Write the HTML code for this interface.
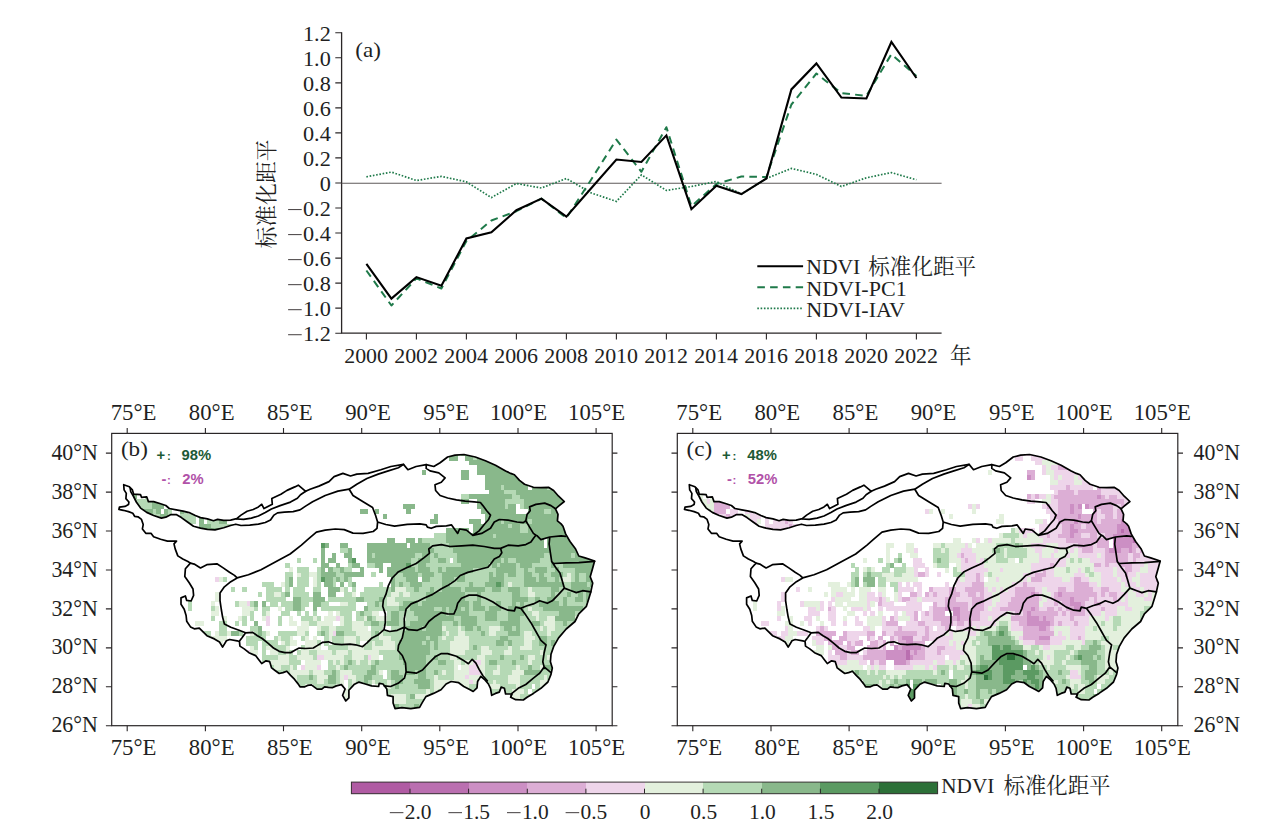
<!DOCTYPE html><html><head><meta charset="utf-8"><title>fig</title><style>html,body{margin:0;padding:0;background:#fff}svg{display:block}text{font-family:"Liberation Serif",serif;fill:#221f1f}.s{font-family:"Liberation Sans",sans-serif;font-weight:bold}.cjk{font-family:"Liberation Serif","Noto Serif CJK SC",serif}</style></head><body>
<svg width="1268" height="829" viewBox="0 0 1268 829">
<defs><clipPath id="cb"><path d="M123.7 484.7 129.4 486.8 132.4 489.9 133.7 494.2 140.6 494.7 141.5 497.3 146.7 496.8 148.4 501.6 153.6 501.6 160.6 503.8 165.8 505.5 169.3 508.5 176.2 509.8 183.1 511.1 190.1 512.9 195.3 515.5 200.5 517.6 207.4 518.9 213.5 520.7 217.6 519.4 223.7 520.3 230.6 520.1 236.7 518.6 241.0 515.1 247.1 511.2 253.2 509.5 258.4 506.9 261.8 504.3 264.0 508.6 272.3 504.3 271.8 498.5 280.9 494.3 287.0 490.4 294.8 486.9 298.3 485.2 305.7 491.3 310.1 489.2 318.9 486.1 329.0 481.6 334.1 476.6 342.9 473.4 350.5 476.0 356.8 474.1 368.1 473.4 380.8 469.7 390.9 466.5 403.5 464.4 407.9 469.7 416.1 466.5 426.2 464.6 433.8 466.5 440.1 462.7 447.6 457.0 455.1 455.1 464.0 454.5 475.3 457.0 485.4 460.8 495.5 465.2 505.6 470.9 510.7 473.4 514.4 474.7 519.5 480.4 524.5 484.2 533.4 487.3 540.9 487.7 548.5 487.3 553.6 490.5 558.6 496.2 564.3 501.5 558.6 506.2 555.5 508.8 558.0 514.4 557.4 520.8 561.1 523.9 563.0 526.3 565.6 533.9 570.0 541.5 575.6 549.0 578.8 556.0 585.1 557.9 594.6 561.0 592.7 567.9 590.2 576.8 592.7 583.1 590.8 591.9 588.9 598.2 586.4 606.3 578.8 613.9 575.0 621.5 566.2 629.0 558.6 637.9 553.6 646.7 551.0 654.3 550.4 661.8 552.3 668.1 551.0 674.4 547.9 682.0 540.9 688.3 533.4 693.4 527.1 697.2 523.3 700.0 515.7 699.7 510.7 697.2 511.9 694.0 505.6 694.0 504.4 688.3 501.2 687.1 499.3 692.1 495.5 693.4 491.7 695.3 490.5 688.3 488.4 684.0 485.2 680.2 480.8 676.4 477.6 681.5 477.0 687.8 473.2 691.5 470.1 689.7 463.8 686.5 458.7 682.7 451.1 681.5 446.1 684.0 441.0 689.7 433.5 693.4 425.9 696.6 422.1 702.9 419.6 707.3 410.8 708.6 401.9 707.7 395.0 708.6 393.1 702.9 393.1 696.6 387.4 695.3 386.8 689.0 383.0 684.0 379.2 683.3 378.6 686.5 371.6 685.9 365.3 684.0 359.0 682.1 354.0 684.6 348.9 690.3 348.9 697.9 345.8 701.0 342.6 695.3 345.1 689.0 341.4 684.6 336.3 685.9 332.2 687.7 328.4 687.3 324.6 686.8 321.8 689.1 317.1 689.1 311.4 684.9 307.6 685.4 304.8 686.8 300.0 686.8 298.1 683.9 294.4 679.2 290.6 675.4 286.8 671.2 283.0 672.6 279.2 673.5 275.4 670.7 271.6 667.9 269.7 661.7 266.0 660.8 261.7 663.6 258.4 659.3 255.6 655.6 248.9 652.7 244.2 648.9 239.9 646.1 239.5 641.8 237.2 640.8 229.6 639.5 226.4 640.8 222.6 647.1 219.5 642.0 214.4 638.9 206.9 635.7 203.1 631.9 199.3 628.1 194.3 628.8 190.5 626.9 186.7 621.2 186.1 615.5 184.2 609.2 181.0 604.2 181.0 597.9 185.4 596.0 186.7 600.4 191.1 601.0 193.6 595.3 193.0 589.0 189.2 582.7 184.8 576.4 185.4 568.8 190.4 563.1 187.9 561.5 182.8 559.0 177.8 555.9 175.2 548.9 174.0 543.9 176.5 541.1 167.5 541.1 160.6 539.3 153.6 536.7 151.0 533.3 145.8 533.3 142.4 528.9 143.2 524.6 141.5 519.4 138.0 516.8 134.6 516.3 132.8 513.3 128.5 511.6 123.3 510.3 118.9 509.4 119.4 507.2 125.0 506.4 128.5 504.6 128.9 502.0 125.9 498.6 126.3 493.4 124.1 489.9Z"/></clipPath><clipPath id="cc"><path d="M689.3 484.7 695.0 486.8 698.0 489.9 699.3 494.2 706.2 494.7 707.1 497.3 712.3 496.8 714.0 501.6 719.2 501.6 726.2 503.8 731.4 505.5 734.9 508.5 741.8 509.8 748.7 511.1 755.7 512.9 760.9 515.5 766.1 517.6 773.0 518.9 779.1 520.7 783.2 519.4 789.3 520.3 796.2 520.1 802.3 518.6 806.6 515.1 812.7 511.2 818.8 509.5 824.0 506.9 827.4 504.3 829.6 508.6 837.9 504.3 837.4 498.5 846.5 494.3 852.6 490.4 860.4 486.9 863.9 485.2 871.3 491.3 875.7 489.2 884.5 486.1 894.6 481.6 899.7 476.6 908.5 473.4 916.1 476.0 922.4 474.1 933.7 473.4 946.4 469.7 956.5 466.5 969.1 464.4 973.5 469.7 981.7 466.5 991.8 464.6 999.4 466.5 1005.7 462.7 1013.2 457.0 1020.7 455.1 1029.6 454.5 1040.9 457.0 1051.0 460.8 1061.1 465.2 1071.2 470.9 1076.3 473.4 1080.0 474.7 1085.1 480.4 1090.1 484.2 1099.0 487.3 1106.5 487.7 1114.1 487.3 1119.2 490.5 1124.2 496.2 1129.9 501.5 1124.2 506.2 1121.1 508.8 1123.6 514.4 1123.0 520.8 1126.7 523.9 1128.6 526.3 1131.2 533.9 1135.6 541.5 1141.2 549.0 1144.4 556.0 1150.7 557.9 1160.2 561.0 1158.3 567.9 1155.8 576.8 1158.3 583.1 1156.4 591.9 1154.5 598.2 1152.0 606.3 1144.4 613.9 1140.6 621.5 1131.8 629.0 1124.2 637.9 1119.2 646.7 1116.6 654.3 1116.0 661.8 1117.9 668.1 1116.6 674.4 1113.5 682.0 1106.5 688.3 1099.0 693.4 1092.7 697.2 1088.9 700.0 1081.3 699.7 1076.3 697.2 1077.5 694.0 1071.2 694.0 1070.0 688.3 1066.8 687.1 1064.9 692.1 1061.1 693.4 1057.3 695.3 1056.1 688.3 1054.0 684.0 1050.8 680.2 1046.4 676.4 1043.2 681.5 1042.6 687.8 1038.8 691.5 1035.7 689.7 1029.4 686.5 1024.3 682.7 1016.7 681.5 1011.7 684.0 1006.6 689.7 999.1 693.4 991.5 696.6 987.7 702.9 985.2 707.3 976.4 708.6 967.5 707.7 960.6 708.6 958.7 702.9 958.7 696.6 953.0 695.3 952.4 689.0 948.6 684.0 944.8 683.3 944.2 686.5 937.2 685.9 930.9 684.0 924.6 682.1 919.6 684.6 914.5 690.3 914.5 697.9 911.4 701.0 908.2 695.3 910.7 689.0 907.0 684.6 901.9 685.9 897.8 687.7 894.0 687.3 890.2 686.8 887.4 689.1 882.7 689.1 877.0 684.9 873.2 685.4 870.4 686.8 865.6 686.8 863.7 683.9 860.0 679.2 856.2 675.4 852.4 671.2 848.6 672.6 844.8 673.5 841.0 670.7 837.2 667.9 835.3 661.7 831.6 660.8 827.3 663.6 824.0 659.3 821.2 655.6 814.5 652.7 809.8 648.9 805.5 646.1 805.1 641.8 802.8 640.8 795.2 639.5 792.0 640.8 788.2 647.1 785.1 642.0 780.0 638.9 772.5 635.7 768.7 631.9 764.9 628.1 759.9 628.8 756.1 626.9 752.3 621.2 751.7 615.5 749.8 609.2 746.6 604.2 746.6 597.9 751.0 596.0 752.3 600.4 756.7 601.0 759.2 595.3 758.6 589.0 754.8 582.7 750.4 576.4 751.0 568.8 756.0 563.1 753.5 561.5 748.4 559.0 743.4 555.9 740.8 548.9 739.6 543.9 742.1 541.1 733.1 541.1 726.2 539.3 719.2 536.7 716.6 533.3 711.4 533.3 708.0 528.9 708.8 524.6 707.1 519.4 703.6 516.8 700.2 516.3 698.4 513.3 694.1 511.6 688.9 510.3 684.5 509.4 685.0 507.2 690.6 506.4 694.1 504.6 694.5 502.0 691.5 498.6 691.9 493.4 689.7 489.9Z"/></clipPath><clipPath id="kb"><path d="M123.7 484.7 129.4 486.8 132.4 489.9 133.7 494.2 140.6 494.7 141.5 497.3 146.7 496.8 148.4 501.6 153.6 501.6 160.6 503.8 165.8 505.5 169.3 508.5 176.2 509.8 183.1 511.1 190.1 512.9 195.3 515.5 200.5 517.6 207.4 518.9 213.5 520.7 217.6 519.4 223.7 520.3 230.6 520.1 236.7 518.6 241.0 515.1 247.1 511.2 253.2 509.5 258.4 506.9 261.8 504.3 264.0 508.6 272.3 504.3 271.8 498.5 280.9 494.3 287.0 490.4 294.8 486.9 298.3 485.2 305.7 491.3 310.1 489.2 318.9 486.1 329.0 481.6 334.1 476.6 342.9 473.4 350.5 476.0 356.8 474.1 368.1 473.4 380.8 469.7 390.9 466.5 403.5 464.4 403.5 464.4 398.4 467.8 388.3 470.9 378.2 474.1 366.9 478.5 356.8 484.2 349.2 489.2 337.9 491.1 325.2 495.5 312.6 501.8 305.2 506.4 300.0 509.9 293.1 511.6 284.4 512.1 277.5 512.9 274.0 515.1 270.5 519.9 265.3 522.5 258.4 524.2 249.7 525.1 241.0 525.5 235.8 524.2 230.6 525.5 223.7 527.7 215.0 529.9 207.4 529.4 200.5 528.1 193.5 526.3 187.5 522.0 181.4 517.6 176.2 514.6 171.0 514.6 165.8 517.2 161.4 518.1 153.6 515.5 146.7 512.4 140.6 508.1 136.3 502.0 133.3 496.0 130.7 491.6 130.2 488.1Z"/></clipPath><clipPath id="kc"><path d="M689.3 484.7 695.0 486.8 698.0 489.9 699.3 494.2 706.2 494.7 707.1 497.3 712.3 496.8 714.0 501.6 719.2 501.6 726.2 503.8 731.4 505.5 734.9 508.5 741.8 509.8 748.7 511.1 755.7 512.9 760.9 515.5 766.1 517.6 773.0 518.9 779.1 520.7 783.2 519.4 789.3 520.3 796.2 520.1 802.3 518.6 806.6 515.1 812.7 511.2 818.8 509.5 824.0 506.9 827.4 504.3 829.6 508.6 837.9 504.3 837.4 498.5 846.5 494.3 852.6 490.4 860.4 486.9 863.9 485.2 871.3 491.3 875.7 489.2 884.5 486.1 894.6 481.6 899.7 476.6 908.5 473.4 916.1 476.0 922.4 474.1 933.7 473.4 946.4 469.7 956.5 466.5 969.1 464.4 969.1 464.4 964.0 467.8 953.9 470.9 943.8 474.1 932.5 478.5 922.4 484.2 914.8 489.2 903.5 491.1 890.8 495.5 878.2 501.8 870.8 506.4 865.6 509.9 858.7 511.6 850.0 512.1 843.1 512.9 839.6 515.1 836.1 519.9 830.9 522.5 824.0 524.2 815.3 525.1 806.6 525.5 801.4 524.2 796.2 525.5 789.3 527.7 780.6 529.9 773.0 529.4 766.1 528.1 759.1 526.3 753.1 522.0 747.0 517.6 741.8 514.6 736.6 514.6 731.4 517.2 727.0 518.1 719.2 515.5 712.3 512.4 706.2 508.1 701.9 502.0 698.9 496.0 696.3 491.6 695.8 488.1Z"/></clipPath></defs>
<rect width="1268" height="829" fill="#fff"/>
<g stroke="#2a2627" stroke-width="1.3" fill="none">
<path d="M341.6 32.2V333.2H941.6"/>
<path d="M341.6 32.8h-6.3M341.6 57.8h-6.3M341.6 82.9h-6.3M341.6 107.9h-6.3M341.6 132.9h-6.3M341.6 157.9h-6.3M341.6 183.0h-6.3M341.6 208.0h-6.3M341.6 233.0h-6.3M341.6 258.1h-6.3M341.6 283.1h-6.3M341.6 308.1h-6.3M341.6 333.2h-6.3M366.4 333.2v6.2M416.4 333.2v6.2M466.4 333.2v6.2M516.4 333.2v6.2M566.4 333.2v6.2M616.4 333.2v6.2M666.4 333.2v6.2M716.4 333.2v6.2M766.4 333.2v6.2M816.4 333.2v6.2M866.4 333.2v6.2M916.4 333.2v6.2" stroke-width="1.1"/>
</g>
<path d="M341.6 183.2H941.6" stroke="#5e5a5a" stroke-width="1.15"/>
<text transform="translate(302.98 40.70) scale(1.060 1)" font-size="21.00" text-anchor="start">1.2</text>
<text transform="translate(302.98 65.73) scale(1.060 1)" font-size="21.00" text-anchor="start">1.0</text>
<text transform="translate(302.98 90.76) scale(1.060 1)" font-size="21.00" text-anchor="start">0.8</text>
<text transform="translate(302.98 115.79) scale(1.060 1)" font-size="21.00" text-anchor="start">0.6</text>
<text transform="translate(302.98 140.82) scale(1.060 1)" font-size="21.00" text-anchor="start">0.4</text>
<text transform="translate(302.98 165.85) scale(1.060 1)" font-size="21.00" text-anchor="start">0.2</text>
<text transform="translate(319.67 190.88) scale(1.060 1)" font-size="21.00" text-anchor="start">0</text>
<text transform="translate(302.98 215.91) scale(1.060 1)" font-size="21.00" text-anchor="start">0.2</text><path d="M288.1 209.56h13.6" stroke="#4a4546" stroke-width="1.05"/>
<text transform="translate(302.98 240.94) scale(1.060 1)" font-size="21.00" text-anchor="start">0.4</text><path d="M288.1 234.59h13.6" stroke="#4a4546" stroke-width="1.05"/>
<text transform="translate(302.98 265.97) scale(1.060 1)" font-size="21.00" text-anchor="start">0.6</text><path d="M288.1 259.62h13.6" stroke="#4a4546" stroke-width="1.05"/>
<text transform="translate(302.98 291.00) scale(1.060 1)" font-size="21.00" text-anchor="start">0.8</text><path d="M288.1 284.65h13.6" stroke="#4a4546" stroke-width="1.05"/>
<text transform="translate(302.98 316.03) scale(1.060 1)" font-size="21.00" text-anchor="start">1.0</text><path d="M288.1 309.68h13.6" stroke="#4a4546" stroke-width="1.05"/>
<text transform="translate(302.98 341.06) scale(1.060 1)" font-size="21.00" text-anchor="start">1.2</text><path d="M288.1 334.71h13.6" stroke="#4a4546" stroke-width="1.05"/>
<text transform="translate(366.10 362.80) scale(1.045 1)" font-size="21.00" text-anchor="middle">2000</text>
<text transform="translate(416.10 362.80) scale(1.045 1)" font-size="21.00" text-anchor="middle">2002</text>
<text transform="translate(466.10 362.80) scale(1.045 1)" font-size="21.00" text-anchor="middle">2004</text>
<text transform="translate(516.10 362.80) scale(1.045 1)" font-size="21.00" text-anchor="middle">2006</text>
<text transform="translate(566.10 362.80) scale(1.045 1)" font-size="21.00" text-anchor="middle">2008</text>
<text transform="translate(616.10 362.80) scale(1.045 1)" font-size="21.00" text-anchor="middle">2010</text>
<text transform="translate(666.10 362.80) scale(1.045 1)" font-size="21.00" text-anchor="middle">2012</text>
<text transform="translate(716.10 362.80) scale(1.045 1)" font-size="21.00" text-anchor="middle">2014</text>
<text transform="translate(766.10 362.80) scale(1.045 1)" font-size="21.00" text-anchor="middle">2016</text>
<text transform="translate(816.10 362.80) scale(1.045 1)" font-size="21.00" text-anchor="middle">2018</text>
<text transform="translate(866.10 362.80) scale(1.045 1)" font-size="21.00" text-anchor="middle">2020</text>
<text transform="translate(916.10 362.80) scale(1.045 1)" font-size="21.00" text-anchor="middle">2022</text>
<text transform="translate(355.20 56.80) scale(1.050 1)" font-size="22.00" text-anchor="start">(a)</text>
<text class="cjk" x="950.00" y="363.30" font-size="21.5" text-anchor="start">年</text>
<text class="cjk" transform="translate(273.8 248.5) rotate(-90)" font-size="21.8" text-anchor="start">标准化距平</text>
<path d="M366.4 176.8 391.4 172.1 416.4 180.5 441.4 176.4 466.4 181.8 491.4 197.6 516.4 183.5 541.4 188.0 566.4 178.5 591.4 193.0 616.4 201.4 641.4 174.9 666.4 190.4 691.4 186.5 716.4 181.5 741.4 194.1 766.4 178.5 791.4 168.4 816.4 174.4 841.4 186.5 866.4 177.8 891.4 172.6 916.4 179.8" fill="none" stroke="#1f7a4a" stroke-width="1.7" stroke-dasharray="1.6 1.7"/>
<path d="M366.4 270.5 391.4 305.5 416.4 278.4 441.4 288.5 466.4 241.0 491.4 220.5 516.4 211.2 541.4 198.6 566.4 218.0 591.4 179.2 616.4 139.6 641.4 171.8 666.4 127.2 691.4 206.2 716.4 184.0 741.4 176.5 766.4 177.0 791.4 104.5 816.4 73.5 841.4 93.2 866.4 95.8 891.4 54.2 916.4 76.0" fill="none" stroke="#1f7a4a" stroke-width="2" stroke-dasharray="7.6 5.2" stroke-linejoin="round"/>
<path d="M366.4 263.8 391.4 298.6 416.4 277.1 441.4 285.8 466.4 238.5 491.4 232.2 516.4 210.2 541.4 198.6 566.4 216.6 591.4 188.0 616.4 159.5 641.4 162.0 666.4 135.4 691.4 209.2 716.4 185.8 741.4 194.1 766.4 178.5 791.4 89.4 816.4 63.4 841.4 97.5 866.4 98.5 891.4 42.0 916.4 78.0" fill="none" stroke="#000" stroke-width="2.1" stroke-linejoin="miter"/>
<path d="M757.3 266.2H803.1" stroke="#000" stroke-width="2.1"/>
<path d="M757.3 287.3H803.1" stroke="#1f7a4a" stroke-width="2" stroke-dasharray="7.6 5.2"/>
<path d="M757.3 308.4H803.1" stroke="#1f7a4a" stroke-width="1.7" stroke-dasharray="1.6 1.7"/>
<text transform="translate(806.30 273.90) scale(1.030 1)" font-size="21.00" text-anchor="start">NDVI</text>
<text class="cjk" x="868.20" y="273.60" font-size="21.6" text-anchor="start">标准化距平</text>
<text transform="translate(806.30 296.20) scale(1.050 1)" font-size="21.00" text-anchor="start">NDVI-PC1</text>
<text transform="translate(806.30 316.90) scale(1.050 1)" font-size="21.00" text-anchor="start">NDVI-IAV</text>
<g clip-path="url(#cb)" shape-rendering="crispEdges">
<path fill="#eed5ea" d="M215.0 577.1h4.2v5.17h-4.2zM246.2 601.4h4.2v5.17h-4.2zM265.8 616.1h4.2v5.17h-4.2zM336.1 616.1h4.2v5.17h-4.2zM265.8 620.9h4.2v5.17h-4.2zM332.2 630.7h4.2v5.17h-4.2zM246.2 650.1h4.2v5.17h-4.2zM316.6 655.0h8.1v5.17h-8.1zM367.4 655.0h4.2v5.17h-4.2zM472.9 659.9h8.1v5.17h-8.1zM300.9 664.7h4.2v5.17h-4.2zM316.6 664.7h4.2v5.17h-4.2zM469.0 664.7h8.1v5.17h-8.1zM469.0 669.6h12.0v5.17h-12.0zM343.9 674.5h4.2v5.17h-4.2zM465.0 674.5h4.2v5.17h-4.2zM469.0 679.3h4.2v5.17h-4.2zM340.0 694.0h4.2v5.17h-4.2z"/>
<path fill="#e3f0dd" d="M289.2 567.4h4.2v5.17h-4.2zM297.0 572.2h4.2v5.17h-4.2zM308.7 572.2h8.1v5.17h-8.1zM566.6 572.2h4.2v5.17h-4.2zM218.9 577.1h4.2v5.17h-4.2zM312.7 577.1h4.2v5.17h-4.2zM562.7 577.1h8.1v5.17h-8.1zM281.4 582.0h4.2v5.17h-4.2zM312.7 582.0h4.2v5.17h-4.2zM508.0 582.0h4.2v5.17h-4.2zM340.0 586.8h4.2v5.17h-4.2zM394.7 586.8h12.0v5.17h-12.0zM527.6 586.8h4.2v5.17h-4.2zM215.0 591.7h4.2v5.17h-4.2zM273.6 591.7h8.1v5.17h-8.1zM351.7 591.7h4.2v5.17h-4.2zM390.8 591.7h8.1v5.17h-8.1zM402.5 591.7h8.1v5.17h-8.1zM527.6 591.7h8.1v5.17h-8.1zM215.0 596.6h4.2v5.17h-4.2zM386.9 596.6h8.1v5.17h-8.1zM211.1 601.4h4.2v5.17h-4.2zM238.4 601.4h8.1v5.17h-8.1zM340.0 601.4h8.1v5.17h-8.1zM386.9 601.4h12.0v5.17h-12.0zM215.0 606.3h4.2v5.17h-4.2zM242.3 606.3h12.0v5.17h-12.0zM277.5 606.3h4.2v5.17h-4.2zM527.6 606.3h4.2v5.17h-4.2zM211.1 611.2h8.1v5.17h-8.1zM242.3 611.2h8.1v5.17h-8.1zM265.8 611.2h4.2v5.17h-4.2zM328.3 611.2h4.2v5.17h-4.2zM336.1 611.2h4.2v5.17h-4.2zM371.3 611.2h8.1v5.17h-8.1zM531.5 611.2h8.1v5.17h-8.1zM222.8 616.1h4.2v5.17h-4.2zM238.4 616.1h4.2v5.17h-4.2zM261.9 616.1h4.2v5.17h-4.2zM289.2 616.1h4.2v5.17h-4.2zM312.7 616.1h4.2v5.17h-4.2zM324.4 616.1h12.0v5.17h-12.0zM340.0 616.1h4.2v5.17h-4.2zM363.5 616.1h4.2v5.17h-4.2zM375.2 616.1h12.0v5.17h-12.0zM402.5 616.1h4.2v5.17h-4.2zM535.4 616.1h4.2v5.17h-4.2zM547.1 616.1h8.1v5.17h-8.1zM574.5 616.1h4.2v5.17h-4.2zM195.4 620.9h8.1v5.17h-8.1zM289.2 620.9h8.1v5.17h-8.1zM300.9 620.9h8.1v5.17h-8.1zM316.6 620.9h15.9v5.17h-15.9zM340.0 620.9h4.2v5.17h-4.2zM351.7 620.9h12.0v5.17h-12.0zM543.2 620.9h12.0v5.17h-12.0zM574.5 620.9h4.2v5.17h-4.2zM187.6 625.8h4.2v5.17h-4.2zM297.0 625.8h12.0v5.17h-12.0zM316.6 625.8h4.2v5.17h-4.2zM328.3 625.8h8.1v5.17h-8.1zM351.7 625.8h15.9v5.17h-15.9zM441.6 625.8h4.2v5.17h-4.2zM457.2 625.8h4.2v5.17h-4.2zM488.5 625.8h12.0v5.17h-12.0zM539.3 625.8h4.2v5.17h-4.2zM547.1 625.8h8.1v5.17h-8.1zM215.0 630.7h4.2v5.17h-4.2zM226.7 630.7h4.2v5.17h-4.2zM250.1 630.7h4.2v5.17h-4.2zM265.8 630.7h4.2v5.17h-4.2zM297.0 630.7h8.1v5.17h-8.1zM328.3 630.7h4.2v5.17h-4.2zM355.6 630.7h15.9v5.17h-15.9zM379.1 630.7h4.2v5.17h-4.2zM445.5 630.7h4.2v5.17h-4.2zM457.2 630.7h8.1v5.17h-8.1zM488.5 630.7h8.1v5.17h-8.1zM523.7 630.7h8.1v5.17h-8.1zM547.1 630.7h4.2v5.17h-4.2zM211.1 635.5h15.9v5.17h-15.9zM277.5 635.5h4.2v5.17h-4.2zM289.2 635.5h4.2v5.17h-4.2zM304.8 635.5h4.2v5.17h-4.2zM312.7 635.5h4.2v5.17h-4.2zM328.3 635.5h4.2v5.17h-4.2zM343.9 635.5h12.0v5.17h-12.0zM359.5 635.5h12.0v5.17h-12.0zM379.1 635.5h12.0v5.17h-12.0zM441.6 635.5h4.2v5.17h-4.2zM453.3 635.5h15.9v5.17h-15.9zM523.7 635.5h12.0v5.17h-12.0zM215.0 640.4h8.1v5.17h-8.1zM281.4 640.4h4.2v5.17h-4.2zM289.2 640.4h8.1v5.17h-8.1zM304.8 640.4h12.0v5.17h-12.0zM343.9 640.4h12.0v5.17h-12.0zM371.3 640.4h4.2v5.17h-4.2zM383.0 640.4h12.0v5.17h-12.0zM449.4 640.4h19.8v5.17h-19.8zM523.7 640.4h8.1v5.17h-8.1zM250.1 645.3h4.2v5.17h-4.2zM265.8 645.3h8.1v5.17h-8.1zM285.3 645.3h4.2v5.17h-4.2zM304.8 645.3h15.9v5.17h-15.9zM347.8 645.3h15.9v5.17h-15.9zM371.3 645.3h23.7v5.17h-23.7zM449.4 645.3h19.8v5.17h-19.8zM480.7 645.3h8.1v5.17h-8.1zM508.0 645.3h4.2v5.17h-4.2zM519.8 645.3h12.0v5.17h-12.0zM250.1 650.1h8.1v5.17h-8.1zM269.7 650.1h8.1v5.17h-8.1zM285.3 650.1h4.2v5.17h-4.2zM300.9 650.1h8.1v5.17h-8.1zM316.6 650.1h15.9v5.17h-15.9zM336.1 650.1h12.0v5.17h-12.0zM351.7 650.1h27.7v5.17h-27.7zM449.4 650.1h15.9v5.17h-15.9zM480.7 650.1h12.0v5.17h-12.0zM504.1 650.1h8.1v5.17h-8.1zM539.3 650.1h4.2v5.17h-4.2zM277.5 655.0h12.0v5.17h-12.0zM297.0 655.0h15.9v5.17h-15.9zM324.4 655.0h19.8v5.17h-19.8zM351.7 655.0h12.0v5.17h-12.0zM371.3 655.0h8.1v5.17h-8.1zM449.4 655.0h8.1v5.17h-8.1zM476.8 655.0h8.1v5.17h-8.1zM527.6 655.0h8.1v5.17h-8.1zM547.1 655.0h4.2v5.17h-4.2zM269.7 659.9h19.8v5.17h-19.8zM304.8 659.9h15.9v5.17h-15.9zM332.2 659.9h4.2v5.17h-4.2zM340.0 659.9h4.2v5.17h-4.2zM355.6 659.9h4.2v5.17h-4.2zM367.4 659.9h4.2v5.17h-4.2zM453.3 659.9h8.1v5.17h-8.1zM465.0 659.9h8.1v5.17h-8.1zM480.7 659.9h4.2v5.17h-4.2zM527.6 659.9h4.2v5.17h-4.2zM273.6 664.7h8.1v5.17h-8.1zM289.2 664.7h4.2v5.17h-4.2zM304.8 664.7h12.0v5.17h-12.0zM336.1 664.7h4.2v5.17h-4.2zM453.3 664.7h4.2v5.17h-4.2zM461.1 664.7h8.1v5.17h-8.1zM476.8 664.7h8.1v5.17h-8.1zM496.3 664.7h4.2v5.17h-4.2zM515.8 664.7h4.2v5.17h-4.2zM539.3 664.7h4.2v5.17h-4.2zM289.2 669.6h19.8v5.17h-19.8zM312.7 669.6h12.0v5.17h-12.0zM340.0 669.6h12.0v5.17h-12.0zM379.1 669.6h4.2v5.17h-4.2zM441.6 669.6h4.2v5.17h-4.2zM453.3 669.6h15.9v5.17h-15.9zM480.7 669.6h4.2v5.17h-4.2zM492.4 669.6h8.1v5.17h-8.1zM511.9 669.6h12.0v5.17h-12.0zM289.2 674.5h8.1v5.17h-8.1zM316.6 674.5h12.0v5.17h-12.0zM340.0 674.5h4.2v5.17h-4.2zM347.8 674.5h8.1v5.17h-8.1zM433.8 674.5h4.2v5.17h-4.2zM453.3 674.5h12.0v5.17h-12.0zM469.0 674.5h15.9v5.17h-15.9zM508.0 674.5h12.0v5.17h-12.0zM543.2 674.5h4.2v5.17h-4.2zM316.6 679.3h8.1v5.17h-8.1zM340.0 679.3h4.2v5.17h-4.2zM351.7 679.3h4.2v5.17h-4.2zM371.3 679.3h4.2v5.17h-4.2zM386.9 679.3h4.2v5.17h-4.2zM433.8 679.3h35.5v5.17h-35.5zM472.9 679.3h4.2v5.17h-4.2zM492.4 679.3h4.2v5.17h-4.2zM508.0 679.3h12.0v5.17h-12.0zM539.3 679.3h12.0v5.17h-12.0zM304.8 684.2h4.2v5.17h-4.2zM336.1 684.2h8.1v5.17h-8.1zM351.7 684.2h4.2v5.17h-4.2zM375.2 684.2h4.2v5.17h-4.2zM386.9 684.2h4.2v5.17h-4.2zM433.8 684.2h12.0v5.17h-12.0zM461.1 684.2h8.1v5.17h-8.1zM488.5 684.2h12.0v5.17h-12.0zM515.8 684.2h4.2v5.17h-4.2zM539.3 684.2h8.1v5.17h-8.1zM340.0 689.1h8.1v5.17h-8.1zM426.0 689.1h4.2v5.17h-4.2zM433.8 689.1h4.2v5.17h-4.2zM511.9 689.1h12.0v5.17h-12.0zM343.9 694.0h4.2v5.17h-4.2zM390.8 694.0h15.9v5.17h-15.9zM414.3 694.0h15.9v5.17h-15.9zM511.9 694.0h8.1v5.17h-8.1zM390.8 698.8h15.9v5.17h-15.9zM511.9 698.8h4.2v5.17h-4.2zM519.8 698.8h4.2v5.17h-4.2z"/>
<path fill="#b5d9b5" d="M453.3 450.5h8.1v5.17h-8.1zM472.9 455.4h4.2v5.17h-4.2zM500.2 484.6h4.2v5.17h-4.2zM547.1 484.6h4.2v5.17h-4.2zM504.1 489.5h12.0v5.17h-12.0zM461.1 494.3h8.1v5.17h-8.1zM511.9 494.3h8.1v5.17h-8.1zM504.1 499.2h19.8v5.17h-19.8zM504.1 504.1h4.2v5.17h-4.2zM519.8 504.1h4.2v5.17h-4.2zM543.2 508.9h8.1v5.17h-8.1zM500.2 518.7h4.2v5.17h-4.2zM527.6 518.7h4.2v5.17h-4.2zM508.0 523.5h4.2v5.17h-4.2zM519.8 523.5h8.1v5.17h-8.1zM519.8 528.4h8.1v5.17h-8.1zM433.8 533.3h12.0v5.17h-12.0zM492.4 533.3h4.2v5.17h-4.2zM422.1 538.2h23.7v5.17h-23.7zM429.9 543.0h19.8v5.17h-19.8zM340.0 547.9h8.1v5.17h-8.1zM433.8 547.9h19.8v5.17h-19.8zM371.3 552.8h4.2v5.17h-4.2zM414.3 552.8h8.1v5.17h-8.1zM429.9 552.8h4.2v5.17h-4.2zM437.7 552.8h19.8v5.17h-19.8zM543.2 552.8h8.1v5.17h-8.1zM570.6 552.8h4.2v5.17h-4.2zM297.0 557.6h4.2v5.17h-4.2zM312.7 557.6h4.2v5.17h-4.2zM410.3 557.6h8.1v5.17h-8.1zM429.9 557.6h8.1v5.17h-8.1zM445.5 557.6h4.2v5.17h-4.2zM453.3 557.6h4.2v5.17h-4.2zM500.2 557.6h4.2v5.17h-4.2zM508.0 557.6h8.1v5.17h-8.1zM539.3 557.6h12.0v5.17h-12.0zM285.3 562.5h4.2v5.17h-4.2zM347.8 562.5h4.2v5.17h-4.2zM367.4 562.5h8.1v5.17h-8.1zM410.3 562.5h8.1v5.17h-8.1zM426.0 562.5h35.5v5.17h-35.5zM488.5 562.5h4.2v5.17h-4.2zM496.3 562.5h4.2v5.17h-4.2zM515.8 562.5h4.2v5.17h-4.2zM531.5 562.5h19.8v5.17h-19.8zM554.9 562.5h8.1v5.17h-8.1zM297.0 567.4h12.0v5.17h-12.0zM316.6 567.4h4.2v5.17h-4.2zM332.2 567.4h8.1v5.17h-8.1zM343.9 567.4h8.1v5.17h-8.1zM414.3 567.4h4.2v5.17h-4.2zM429.9 567.4h8.1v5.17h-8.1zM441.6 567.4h4.2v5.17h-4.2zM472.9 567.4h23.7v5.17h-23.7zM515.8 567.4h8.1v5.17h-8.1zM527.6 567.4h8.1v5.17h-8.1zM547.1 567.4h8.1v5.17h-8.1zM558.8 567.4h15.9v5.17h-15.9zM285.3 572.2h8.1v5.17h-8.1zM300.9 572.2h8.1v5.17h-8.1zM316.6 572.2h4.2v5.17h-4.2zM336.1 572.2h8.1v5.17h-8.1zM371.3 572.2h4.2v5.17h-4.2zM394.7 572.2h8.1v5.17h-8.1zM418.2 572.2h4.2v5.17h-4.2zM433.8 572.2h8.1v5.17h-8.1zM465.0 572.2h23.7v5.17h-23.7zM492.4 572.2h4.2v5.17h-4.2zM504.1 572.2h4.2v5.17h-4.2zM515.8 572.2h8.1v5.17h-8.1zM531.5 572.2h8.1v5.17h-8.1zM543.2 572.2h8.1v5.17h-8.1zM562.7 572.2h4.2v5.17h-4.2zM570.6 572.2h4.2v5.17h-4.2zM578.4 572.2h8.1v5.17h-8.1zM222.8 577.1h4.2v5.17h-4.2zM285.3 577.1h4.2v5.17h-4.2zM297.0 577.1h12.0v5.17h-12.0zM316.6 577.1h4.2v5.17h-4.2zM332.2 577.1h4.2v5.17h-4.2zM340.0 577.1h4.2v5.17h-4.2zM347.8 577.1h4.2v5.17h-4.2zM394.7 577.1h12.0v5.17h-12.0zM429.9 577.1h12.0v5.17h-12.0zM453.3 577.1h4.2v5.17h-4.2zM465.0 577.1h23.7v5.17h-23.7zM504.1 577.1h19.8v5.17h-19.8zM535.4 577.1h4.2v5.17h-4.2zM547.1 577.1h8.1v5.17h-8.1zM558.8 577.1h4.2v5.17h-4.2zM570.6 577.1h4.2v5.17h-4.2zM578.4 577.1h8.1v5.17h-8.1zM261.9 582.0h12.0v5.17h-12.0zM285.3 582.0h4.2v5.17h-4.2zM297.0 582.0h12.0v5.17h-12.0zM316.6 582.0h4.2v5.17h-4.2zM332.2 582.0h4.2v5.17h-4.2zM347.8 582.0h4.2v5.17h-4.2zM379.1 582.0h4.2v5.17h-4.2zM394.7 582.0h4.2v5.17h-4.2zM402.5 582.0h8.1v5.17h-8.1zM422.1 582.0h19.8v5.17h-19.8zM449.4 582.0h19.8v5.17h-19.8zM472.9 582.0h12.0v5.17h-12.0zM504.1 582.0h4.2v5.17h-4.2zM511.9 582.0h12.0v5.17h-12.0zM562.7 582.0h8.1v5.17h-8.1zM586.2 582.0h4.2v5.17h-4.2zM230.6 586.8h4.2v5.17h-4.2zM242.3 586.8h4.2v5.17h-4.2zM265.8 586.8h15.9v5.17h-15.9zM285.3 586.8h4.2v5.17h-4.2zM293.1 586.8h12.0v5.17h-12.0zM312.7 586.8h8.1v5.17h-8.1zM343.9 586.8h4.2v5.17h-4.2zM351.7 586.8h4.2v5.17h-4.2zM363.5 586.8h27.7v5.17h-27.7zM406.4 586.8h8.1v5.17h-8.1zM418.2 586.8h12.0v5.17h-12.0zM433.8 586.8h8.1v5.17h-8.1zM461.1 586.8h4.2v5.17h-4.2zM484.6 586.8h8.1v5.17h-8.1zM500.2 586.8h8.1v5.17h-8.1zM519.8 586.8h8.1v5.17h-8.1zM531.5 586.8h19.8v5.17h-19.8zM558.8 586.8h12.0v5.17h-12.0zM590.1 586.8h4.2v5.17h-4.2zM258.0 591.7h4.2v5.17h-4.2zM265.8 591.7h8.1v5.17h-8.1zM281.4 591.7h4.2v5.17h-4.2zM293.1 591.7h15.9v5.17h-15.9zM343.9 591.7h8.1v5.17h-8.1zM359.5 591.7h31.6v5.17h-31.6zM398.6 591.7h4.2v5.17h-4.2zM410.3 591.7h15.9v5.17h-15.9zM465.0 591.7h12.0v5.17h-12.0zM480.7 591.7h31.6v5.17h-31.6zM519.8 591.7h8.1v5.17h-8.1zM535.4 591.7h15.9v5.17h-15.9zM554.9 591.7h12.0v5.17h-12.0zM570.6 591.7h8.1v5.17h-8.1zM582.3 591.7h4.2v5.17h-4.2zM265.8 596.6h19.8v5.17h-19.8zM300.9 596.6h12.0v5.17h-12.0zM328.3 596.6h27.7v5.17h-27.7zM363.5 596.6h15.9v5.17h-15.9zM383.0 596.6h4.2v5.17h-4.2zM394.7 596.6h31.6v5.17h-31.6zM465.0 596.6h12.0v5.17h-12.0zM480.7 596.6h31.6v5.17h-31.6zM527.6 596.6h8.1v5.17h-8.1zM539.3 596.6h8.1v5.17h-8.1zM554.9 596.6h8.1v5.17h-8.1zM566.6 596.6h8.1v5.17h-8.1zM582.3 596.6h4.2v5.17h-4.2zM187.6 601.4h4.2v5.17h-4.2zM234.5 601.4h4.2v5.17h-4.2zM250.1 601.4h4.2v5.17h-4.2zM269.7 601.4h8.1v5.17h-8.1zM281.4 601.4h12.0v5.17h-12.0zM300.9 601.4h8.1v5.17h-8.1zM320.5 601.4h8.1v5.17h-8.1zM347.8 601.4h8.1v5.17h-8.1zM367.4 601.4h8.1v5.17h-8.1zM379.1 601.4h8.1v5.17h-8.1zM398.6 601.4h4.2v5.17h-4.2zM418.2 601.4h4.2v5.17h-4.2zM469.0 601.4h4.2v5.17h-4.2zM480.7 601.4h15.9v5.17h-15.9zM500.2 601.4h12.0v5.17h-12.0zM515.8 601.4h4.2v5.17h-4.2zM523.7 601.4h15.9v5.17h-15.9zM558.8 601.4h4.2v5.17h-4.2zM566.6 601.4h23.7v5.17h-23.7zM187.6 606.3h4.2v5.17h-4.2zM211.1 606.3h4.2v5.17h-4.2zM254.0 606.3h4.2v5.17h-4.2zM261.9 606.3h8.1v5.17h-8.1zM285.3 606.3h8.1v5.17h-8.1zM300.9 606.3h4.2v5.17h-4.2zM320.5 606.3h35.5v5.17h-35.5zM367.4 606.3h31.6v5.17h-31.6zM406.4 606.3h4.2v5.17h-4.2zM433.8 606.3h8.1v5.17h-8.1zM445.5 606.3h4.2v5.17h-4.2zM461.1 606.3h4.2v5.17h-4.2zM469.0 606.3h4.2v5.17h-4.2zM484.6 606.3h4.2v5.17h-4.2zM500.2 606.3h8.1v5.17h-8.1zM523.7 606.3h4.2v5.17h-4.2zM531.5 606.3h12.0v5.17h-12.0zM582.3 606.3h4.2v5.17h-4.2zM250.1 611.2h4.2v5.17h-4.2zM261.9 611.2h4.2v5.17h-4.2zM281.4 611.2h8.1v5.17h-8.1zM297.0 611.2h4.2v5.17h-4.2zM304.8 611.2h4.2v5.17h-4.2zM312.7 611.2h4.2v5.17h-4.2zM340.0 611.2h12.0v5.17h-12.0zM355.6 611.2h4.2v5.17h-4.2zM363.5 611.2h8.1v5.17h-8.1zM386.9 611.2h4.2v5.17h-4.2zM398.6 611.2h15.9v5.17h-15.9zM445.5 611.2h4.2v5.17h-4.2zM469.0 611.2h15.9v5.17h-15.9zM496.3 611.2h12.0v5.17h-12.0zM523.7 611.2h8.1v5.17h-8.1zM539.3 611.2h19.8v5.17h-19.8zM574.5 611.2h8.1v5.17h-8.1zM211.1 616.1h4.2v5.17h-4.2zM242.3 616.1h4.2v5.17h-4.2zM250.1 616.1h4.2v5.17h-4.2zM277.5 616.1h4.2v5.17h-4.2zM300.9 616.1h12.0v5.17h-12.0zM316.6 616.1h4.2v5.17h-4.2zM343.9 616.1h8.1v5.17h-8.1zM355.6 616.1h8.1v5.17h-8.1zM371.3 616.1h4.2v5.17h-4.2zM386.9 616.1h4.2v5.17h-4.2zM398.6 616.1h4.2v5.17h-4.2zM406.4 616.1h12.0v5.17h-12.0zM453.3 616.1h8.1v5.17h-8.1zM476.8 616.1h8.1v5.17h-8.1zM496.3 616.1h12.0v5.17h-12.0zM519.8 616.1h15.9v5.17h-15.9zM539.3 616.1h8.1v5.17h-8.1zM218.9 620.9h8.1v5.17h-8.1zM234.5 620.9h4.2v5.17h-4.2zM242.3 620.9h4.2v5.17h-4.2zM277.5 620.9h4.2v5.17h-4.2zM308.7 620.9h8.1v5.17h-8.1zM343.9 620.9h8.1v5.17h-8.1zM363.5 620.9h8.1v5.17h-8.1zM379.1 620.9h8.1v5.17h-8.1zM398.6 620.9h12.0v5.17h-12.0zM441.6 620.9h12.0v5.17h-12.0zM457.2 620.9h4.2v5.17h-4.2zM476.8 620.9h23.7v5.17h-23.7zM519.8 620.9h12.0v5.17h-12.0zM539.3 620.9h4.2v5.17h-4.2zM554.9 620.9h8.1v5.17h-8.1zM566.6 620.9h8.1v5.17h-8.1zM218.9 625.8h8.1v5.17h-8.1zM250.1 625.8h8.1v5.17h-8.1zM320.5 625.8h8.1v5.17h-8.1zM336.1 625.8h15.9v5.17h-15.9zM371.3 625.8h12.0v5.17h-12.0zM390.8 625.8h15.9v5.17h-15.9zM422.1 625.8h4.2v5.17h-4.2zM445.5 625.8h12.0v5.17h-12.0zM461.1 625.8h4.2v5.17h-4.2zM472.9 625.8h4.2v5.17h-4.2zM480.7 625.8h8.1v5.17h-8.1zM500.2 625.8h4.2v5.17h-4.2zM511.9 625.8h4.2v5.17h-4.2zM519.8 625.8h19.8v5.17h-19.8zM543.2 625.8h4.2v5.17h-4.2zM554.9 625.8h15.9v5.17h-15.9zM199.3 630.7h12.0v5.17h-12.0zM218.9 630.7h8.1v5.17h-8.1zM238.4 630.7h4.2v5.17h-4.2zM254.0 630.7h4.2v5.17h-4.2zM261.9 630.7h4.2v5.17h-4.2zM277.5 630.7h19.8v5.17h-19.8zM304.8 630.7h4.2v5.17h-4.2zM316.6 630.7h4.2v5.17h-4.2zM324.4 630.7h4.2v5.17h-4.2zM343.9 630.7h12.0v5.17h-12.0zM371.3 630.7h4.2v5.17h-4.2zM383.0 630.7h19.8v5.17h-19.8zM441.6 630.7h4.2v5.17h-4.2zM449.4 630.7h8.1v5.17h-8.1zM465.0 630.7h15.9v5.17h-15.9zM484.6 630.7h4.2v5.17h-4.2zM496.3 630.7h12.0v5.17h-12.0zM519.8 630.7h4.2v5.17h-4.2zM531.5 630.7h15.9v5.17h-15.9zM551.0 630.7h15.9v5.17h-15.9zM246.2 635.5h19.8v5.17h-19.8zM273.6 635.5h4.2v5.17h-4.2zM281.4 635.5h8.1v5.17h-8.1zM300.9 635.5h4.2v5.17h-4.2zM324.4 635.5h4.2v5.17h-4.2zM332.2 635.5h12.0v5.17h-12.0zM355.6 635.5h4.2v5.17h-4.2zM371.3 635.5h8.1v5.17h-8.1zM390.8 635.5h12.0v5.17h-12.0zM426.0 635.5h4.2v5.17h-4.2zM437.7 635.5h4.2v5.17h-4.2zM445.5 635.5h8.1v5.17h-8.1zM469.0 635.5h31.6v5.17h-31.6zM508.0 635.5h15.9v5.17h-15.9zM535.4 635.5h4.2v5.17h-4.2zM547.1 635.5h15.9v5.17h-15.9zM246.2 640.4h12.0v5.17h-12.0zM261.9 640.4h15.9v5.17h-15.9zM285.3 640.4h4.2v5.17h-4.2zM316.6 640.4h4.2v5.17h-4.2zM324.4 640.4h4.2v5.17h-4.2zM332.2 640.4h12.0v5.17h-12.0zM355.6 640.4h4.2v5.17h-4.2zM367.4 640.4h4.2v5.17h-4.2zM375.2 640.4h8.1v5.17h-8.1zM394.7 640.4h4.2v5.17h-4.2zM422.1 640.4h4.2v5.17h-4.2zM429.9 640.4h4.2v5.17h-4.2zM437.7 640.4h12.0v5.17h-12.0zM469.0 640.4h27.7v5.17h-27.7zM504.1 640.4h4.2v5.17h-4.2zM511.9 640.4h12.0v5.17h-12.0zM531.5 640.4h8.1v5.17h-8.1zM547.1 640.4h4.2v5.17h-4.2zM554.9 640.4h4.2v5.17h-4.2zM254.0 645.3h4.2v5.17h-4.2zM261.9 645.3h4.2v5.17h-4.2zM273.6 645.3h12.0v5.17h-12.0zM300.9 645.3h4.2v5.17h-4.2zM328.3 645.3h19.8v5.17h-19.8zM363.5 645.3h8.1v5.17h-8.1zM394.7 645.3h4.2v5.17h-4.2zM429.9 645.3h4.2v5.17h-4.2zM437.7 645.3h12.0v5.17h-12.0zM469.0 645.3h4.2v5.17h-4.2zM476.8 645.3h4.2v5.17h-4.2zM488.5 645.3h19.8v5.17h-19.8zM511.9 645.3h8.1v5.17h-8.1zM531.5 645.3h23.7v5.17h-23.7zM261.9 650.1h4.2v5.17h-4.2zM277.5 650.1h8.1v5.17h-8.1zM289.2 650.1h4.2v5.17h-4.2zM297.0 650.1h4.2v5.17h-4.2zM308.7 650.1h8.1v5.17h-8.1zM332.2 650.1h4.2v5.17h-4.2zM347.8 650.1h4.2v5.17h-4.2zM379.1 650.1h19.8v5.17h-19.8zM429.9 650.1h19.8v5.17h-19.8zM465.0 650.1h15.9v5.17h-15.9zM492.4 650.1h12.0v5.17h-12.0zM511.9 650.1h27.7v5.17h-27.7zM543.2 650.1h12.0v5.17h-12.0zM261.9 655.0h15.9v5.17h-15.9zM289.2 655.0h8.1v5.17h-8.1zM312.7 655.0h4.2v5.17h-4.2zM343.9 655.0h8.1v5.17h-8.1zM363.5 655.0h4.2v5.17h-4.2zM383.0 655.0h15.9v5.17h-15.9zM426.0 655.0h8.1v5.17h-8.1zM437.7 655.0h12.0v5.17h-12.0zM457.2 655.0h19.8v5.17h-19.8zM484.6 655.0h15.9v5.17h-15.9zM504.1 655.0h15.9v5.17h-15.9zM523.7 655.0h4.2v5.17h-4.2zM535.4 655.0h12.0v5.17h-12.0zM261.9 659.9h8.1v5.17h-8.1zM289.2 659.9h12.0v5.17h-12.0zM328.3 659.9h4.2v5.17h-4.2zM336.1 659.9h4.2v5.17h-4.2zM343.9 659.9h4.2v5.17h-4.2zM351.7 659.9h4.2v5.17h-4.2zM359.5 659.9h8.1v5.17h-8.1zM371.3 659.9h4.2v5.17h-4.2zM379.1 659.9h23.7v5.17h-23.7zM426.0 659.9h12.0v5.17h-12.0zM445.5 659.9h8.1v5.17h-8.1zM461.1 659.9h4.2v5.17h-4.2zM484.6 659.9h4.2v5.17h-4.2zM496.3 659.9h15.9v5.17h-15.9zM515.8 659.9h12.0v5.17h-12.0zM531.5 659.9h19.8v5.17h-19.8zM269.7 664.7h4.2v5.17h-4.2zM281.4 664.7h8.1v5.17h-8.1zM293.1 664.7h4.2v5.17h-4.2zM328.3 664.7h8.1v5.17h-8.1zM340.0 664.7h4.2v5.17h-4.2zM347.8 664.7h23.7v5.17h-23.7zM375.2 664.7h31.6v5.17h-31.6zM426.0 664.7h27.7v5.17h-27.7zM484.6 664.7h12.0v5.17h-12.0zM500.2 664.7h15.9v5.17h-15.9zM519.8 664.7h8.1v5.17h-8.1zM531.5 664.7h8.1v5.17h-8.1zM273.6 669.6h15.9v5.17h-15.9zM308.7 669.6h4.2v5.17h-4.2zM324.4 669.6h8.1v5.17h-8.1zM336.1 669.6h4.2v5.17h-4.2zM351.7 669.6h15.9v5.17h-15.9zM375.2 669.6h4.2v5.17h-4.2zM386.9 669.6h4.2v5.17h-4.2zM398.6 669.6h8.1v5.17h-8.1zM414.3 669.6h4.2v5.17h-4.2zM426.0 669.6h8.1v5.17h-8.1zM437.7 669.6h4.2v5.17h-4.2zM445.5 669.6h8.1v5.17h-8.1zM484.6 669.6h8.1v5.17h-8.1zM500.2 669.6h12.0v5.17h-12.0zM539.3 669.6h12.0v5.17h-12.0zM297.0 674.5h12.0v5.17h-12.0zM312.7 674.5h4.2v5.17h-4.2zM336.1 674.5h4.2v5.17h-4.2zM355.6 674.5h8.1v5.17h-8.1zM371.3 674.5h12.0v5.17h-12.0zM386.9 674.5h4.2v5.17h-4.2zM402.5 674.5h15.9v5.17h-15.9zM426.0 674.5h8.1v5.17h-8.1zM437.7 674.5h15.9v5.17h-15.9zM484.6 674.5h23.7v5.17h-23.7zM519.8 674.5h23.7v5.17h-23.7zM547.1 674.5h4.2v5.17h-4.2zM297.0 679.3h19.8v5.17h-19.8zM324.4 679.3h4.2v5.17h-4.2zM336.1 679.3h4.2v5.17h-4.2zM347.8 679.3h4.2v5.17h-4.2zM355.6 679.3h8.1v5.17h-8.1zM367.4 679.3h4.2v5.17h-4.2zM375.2 679.3h12.0v5.17h-12.0zM390.8 679.3h4.2v5.17h-4.2zM402.5 679.3h12.0v5.17h-12.0zM429.9 679.3h4.2v5.17h-4.2zM476.8 679.3h4.2v5.17h-4.2zM484.6 679.3h8.1v5.17h-8.1zM496.3 679.3h12.0v5.17h-12.0zM519.8 679.3h19.8v5.17h-19.8zM297.0 684.2h8.1v5.17h-8.1zM312.7 684.2h23.7v5.17h-23.7zM347.8 684.2h4.2v5.17h-4.2zM367.4 684.2h4.2v5.17h-4.2zM383.0 684.2h4.2v5.17h-4.2zM390.8 684.2h4.2v5.17h-4.2zM398.6 684.2h19.8v5.17h-19.8zM429.9 684.2h4.2v5.17h-4.2zM469.0 684.2h12.0v5.17h-12.0zM500.2 684.2h15.9v5.17h-15.9zM519.8 684.2h12.0v5.17h-12.0zM535.4 684.2h4.2v5.17h-4.2zM347.8 689.1h4.2v5.17h-4.2zM386.9 689.1h39.4v5.17h-39.4zM429.9 689.1h4.2v5.17h-4.2zM437.7 689.1h4.2v5.17h-4.2zM469.0 689.1h8.1v5.17h-8.1zM488.5 689.1h12.0v5.17h-12.0zM504.1 689.1h8.1v5.17h-8.1zM523.7 689.1h4.2v5.17h-4.2zM531.5 689.1h8.1v5.17h-8.1zM347.8 694.0h4.2v5.17h-4.2zM386.9 694.0h4.2v5.17h-4.2zM406.4 694.0h4.2v5.17h-4.2zM429.9 694.0h4.2v5.17h-4.2zM488.5 694.0h4.2v5.17h-4.2zM508.0 694.0h4.2v5.17h-4.2zM519.8 694.0h12.0v5.17h-12.0zM406.4 698.8h19.8v5.17h-19.8zM515.8 698.8h4.2v5.17h-4.2zM390.8 703.7h4.2v5.17h-4.2zM398.6 703.7h15.9v5.17h-15.9zM418.2 703.7h4.2v5.17h-4.2z"/>
<path fill="#89b88b" d="M461.1 450.5h8.1v5.17h-8.1zM449.4 455.4h8.1v5.17h-8.1zM465.0 455.4h8.1v5.17h-8.1zM476.8 455.4h8.1v5.17h-8.1zM469.0 460.3h27.7v5.17h-27.7zM476.8 465.1h27.7v5.17h-27.7zM422.1 470.0h4.2v5.17h-4.2zM461.1 470.0h8.1v5.17h-8.1zM476.8 470.0h39.4v5.17h-39.4zM461.1 474.9h8.1v5.17h-8.1zM484.6 474.9h35.5v5.17h-35.5zM484.6 479.7h43.3v5.17h-43.3zM484.6 484.6h15.9v5.17h-15.9zM504.1 484.6h23.7v5.17h-23.7zM531.5 484.6h15.9v5.17h-15.9zM488.5 489.5h15.9v5.17h-15.9zM515.8 489.5h43.3v5.17h-43.3zM469.0 494.3h43.3v5.17h-43.3zM519.8 494.3h43.3v5.17h-43.3zM461.1 499.2h8.1v5.17h-8.1zM476.8 499.2h27.7v5.17h-27.7zM523.7 499.2h39.4v5.17h-39.4zM402.5 504.1h12.0v5.17h-12.0zM476.8 504.1h27.7v5.17h-27.7zM508.0 504.1h8.1v5.17h-8.1zM523.7 504.1h39.4v5.17h-39.4zM359.5 508.9h8.1v5.17h-8.1zM375.2 508.9h4.2v5.17h-4.2zM406.4 508.9h4.2v5.17h-4.2zM480.7 508.9h35.5v5.17h-35.5zM527.6 508.9h15.9v5.17h-15.9zM551.0 508.9h8.1v5.17h-8.1zM383.0 513.8h4.2v5.17h-4.2zM433.8 513.8h4.2v5.17h-4.2zM484.6 513.8h74.5v5.17h-74.5zM429.9 518.7h8.1v5.17h-8.1zM469.0 518.7h12.0v5.17h-12.0zM484.6 518.7h15.9v5.17h-15.9zM504.1 518.7h23.7v5.17h-23.7zM531.5 518.7h31.6v5.17h-31.6zM472.9 523.5h35.5v5.17h-35.5zM511.9 523.5h8.1v5.17h-8.1zM527.6 523.5h39.4v5.17h-39.4zM445.5 528.4h23.7v5.17h-23.7zM472.9 528.4h47.2v5.17h-47.2zM527.6 528.4h39.4v5.17h-39.4zM445.5 533.3h47.2v5.17h-47.2zM496.3 533.3h74.5v5.17h-74.5zM386.9 538.2h8.1v5.17h-8.1zM406.4 538.2h8.1v5.17h-8.1zM418.2 538.2h4.2v5.17h-4.2zM445.5 538.2h98.0v5.17h-98.0zM547.1 538.2h23.7v5.17h-23.7zM324.4 543.0h4.2v5.17h-4.2zM340.0 543.0h8.1v5.17h-8.1zM367.4 543.0h39.4v5.17h-39.4zM410.3 543.0h19.8v5.17h-19.8zM449.4 543.0h94.1v5.17h-94.1zM547.1 543.0h27.7v5.17h-27.7zM320.5 547.9h4.2v5.17h-4.2zM347.8 547.9h4.2v5.17h-4.2zM367.4 547.9h66.7v5.17h-66.7zM453.3 547.9h125.3v5.17h-125.3zM320.5 552.8h4.2v5.17h-4.2zM332.2 552.8h4.2v5.17h-4.2zM343.9 552.8h8.1v5.17h-8.1zM367.4 552.8h4.2v5.17h-4.2zM375.2 552.8h39.4v5.17h-39.4zM422.1 552.8h8.1v5.17h-8.1zM433.8 552.8h4.2v5.17h-4.2zM457.2 552.8h86.3v5.17h-86.3zM551.0 552.8h19.8v5.17h-19.8zM574.5 552.8h12.0v5.17h-12.0zM320.5 557.6h4.2v5.17h-4.2zM328.3 557.6h8.1v5.17h-8.1zM347.8 557.6h4.2v5.17h-4.2zM367.4 557.6h43.3v5.17h-43.3zM418.2 557.6h12.0v5.17h-12.0zM437.7 557.6h8.1v5.17h-8.1zM457.2 557.6h43.3v5.17h-43.3zM504.1 557.6h4.2v5.17h-4.2zM515.8 557.6h23.7v5.17h-23.7zM551.0 557.6h43.3v5.17h-43.3zM320.5 562.5h8.1v5.17h-8.1zM336.1 562.5h4.2v5.17h-4.2zM351.7 562.5h8.1v5.17h-8.1zM375.2 562.5h8.1v5.17h-8.1zM390.8 562.5h15.9v5.17h-15.9zM418.2 562.5h8.1v5.17h-8.1zM461.1 562.5h27.7v5.17h-27.7zM492.4 562.5h4.2v5.17h-4.2zM500.2 562.5h15.9v5.17h-15.9zM519.8 562.5h12.0v5.17h-12.0zM551.0 562.5h4.2v5.17h-4.2zM562.7 562.5h31.6v5.17h-31.6zM320.5 567.4h4.2v5.17h-4.2zM328.3 567.4h4.2v5.17h-4.2zM340.0 567.4h4.2v5.17h-4.2zM359.5 567.4h4.2v5.17h-4.2zM379.1 567.4h4.2v5.17h-4.2zM386.9 567.4h27.7v5.17h-27.7zM418.2 567.4h12.0v5.17h-12.0zM437.7 567.4h4.2v5.17h-4.2zM445.5 567.4h27.7v5.17h-27.7zM496.3 567.4h19.8v5.17h-19.8zM523.7 567.4h4.2v5.17h-4.2zM535.4 567.4h12.0v5.17h-12.0zM554.9 567.4h4.2v5.17h-4.2zM574.5 567.4h19.8v5.17h-19.8zM320.5 572.2h15.9v5.17h-15.9zM343.9 572.2h19.8v5.17h-19.8zM386.9 572.2h8.1v5.17h-8.1zM402.5 572.2h15.9v5.17h-15.9zM422.1 572.2h12.0v5.17h-12.0zM441.6 572.2h23.7v5.17h-23.7zM488.5 572.2h4.2v5.17h-4.2zM496.3 572.2h8.1v5.17h-8.1zM508.0 572.2h8.1v5.17h-8.1zM523.7 572.2h8.1v5.17h-8.1zM539.3 572.2h4.2v5.17h-4.2zM551.0 572.2h12.0v5.17h-12.0zM574.5 572.2h4.2v5.17h-4.2zM586.2 572.2h8.1v5.17h-8.1zM289.2 577.1h4.2v5.17h-4.2zM324.4 577.1h8.1v5.17h-8.1zM336.1 577.1h4.2v5.17h-4.2zM343.9 577.1h4.2v5.17h-4.2zM390.8 577.1h4.2v5.17h-4.2zM406.4 577.1h12.0v5.17h-12.0zM422.1 577.1h8.1v5.17h-8.1zM441.6 577.1h12.0v5.17h-12.0zM457.2 577.1h8.1v5.17h-8.1zM488.5 577.1h15.9v5.17h-15.9zM523.7 577.1h12.0v5.17h-12.0zM539.3 577.1h8.1v5.17h-8.1zM554.9 577.1h4.2v5.17h-4.2zM574.5 577.1h4.2v5.17h-4.2zM586.2 577.1h8.1v5.17h-8.1zM289.2 582.0h4.2v5.17h-4.2zM324.4 582.0h8.1v5.17h-8.1zM340.0 582.0h4.2v5.17h-4.2zM351.7 582.0h4.2v5.17h-4.2zM390.8 582.0h4.2v5.17h-4.2zM398.6 582.0h4.2v5.17h-4.2zM410.3 582.0h12.0v5.17h-12.0zM441.6 582.0h8.1v5.17h-8.1zM469.0 582.0h4.2v5.17h-4.2zM484.6 582.0h12.0v5.17h-12.0zM500.2 582.0h4.2v5.17h-4.2zM523.7 582.0h39.4v5.17h-39.4zM570.6 582.0h15.9v5.17h-15.9zM590.1 582.0h4.2v5.17h-4.2zM328.3 586.8h12.0v5.17h-12.0zM390.8 586.8h4.2v5.17h-4.2zM414.3 586.8h4.2v5.17h-4.2zM429.9 586.8h4.2v5.17h-4.2zM441.6 586.8h19.8v5.17h-19.8zM465.0 586.8h19.8v5.17h-19.8zM492.4 586.8h8.1v5.17h-8.1zM508.0 586.8h12.0v5.17h-12.0zM551.0 586.8h8.1v5.17h-8.1zM570.6 586.8h19.8v5.17h-19.8zM285.3 591.7h4.2v5.17h-4.2zM312.7 591.7h8.1v5.17h-8.1zM328.3 591.7h8.1v5.17h-8.1zM426.0 591.7h39.4v5.17h-39.4zM476.8 591.7h4.2v5.17h-4.2zM511.9 591.7h8.1v5.17h-8.1zM551.0 591.7h4.2v5.17h-4.2zM566.6 591.7h4.2v5.17h-4.2zM578.4 591.7h4.2v5.17h-4.2zM586.2 591.7h8.1v5.17h-8.1zM293.1 596.6h8.1v5.17h-8.1zM312.7 596.6h12.0v5.17h-12.0zM355.6 596.6h8.1v5.17h-8.1zM379.1 596.6h4.2v5.17h-4.2zM426.0 596.6h39.4v5.17h-39.4zM476.8 596.6h4.2v5.17h-4.2zM511.9 596.6h15.9v5.17h-15.9zM535.4 596.6h4.2v5.17h-4.2zM547.1 596.6h8.1v5.17h-8.1zM562.7 596.6h4.2v5.17h-4.2zM574.5 596.6h8.1v5.17h-8.1zM586.2 596.6h4.2v5.17h-4.2zM254.0 601.4h4.2v5.17h-4.2zM261.9 601.4h4.2v5.17h-4.2zM293.1 601.4h8.1v5.17h-8.1zM312.7 601.4h8.1v5.17h-8.1zM375.2 601.4h4.2v5.17h-4.2zM402.5 601.4h15.9v5.17h-15.9zM422.1 601.4h47.2v5.17h-47.2zM472.9 601.4h8.1v5.17h-8.1zM496.3 601.4h4.2v5.17h-4.2zM511.9 601.4h4.2v5.17h-4.2zM519.8 601.4h4.2v5.17h-4.2zM539.3 601.4h19.8v5.17h-19.8zM562.7 601.4h4.2v5.17h-4.2zM293.1 606.3h8.1v5.17h-8.1zM312.7 606.3h4.2v5.17h-4.2zM363.5 606.3h4.2v5.17h-4.2zM398.6 606.3h8.1v5.17h-8.1zM410.3 606.3h23.7v5.17h-23.7zM441.6 606.3h4.2v5.17h-4.2zM449.4 606.3h12.0v5.17h-12.0zM465.0 606.3h4.2v5.17h-4.2zM472.9 606.3h12.0v5.17h-12.0zM488.5 606.3h12.0v5.17h-12.0zM508.0 606.3h15.9v5.17h-15.9zM543.2 606.3h39.4v5.17h-39.4zM359.5 611.2h4.2v5.17h-4.2zM390.8 611.2h8.1v5.17h-8.1zM414.3 611.2h31.6v5.17h-31.6zM449.4 611.2h19.8v5.17h-19.8zM484.6 611.2h12.0v5.17h-12.0zM508.0 611.2h15.9v5.17h-15.9zM558.8 611.2h15.9v5.17h-15.9zM367.4 616.1h4.2v5.17h-4.2zM390.8 616.1h8.1v5.17h-8.1zM418.2 616.1h35.5v5.17h-35.5zM461.1 616.1h15.9v5.17h-15.9zM484.6 616.1h12.0v5.17h-12.0zM508.0 616.1h12.0v5.17h-12.0zM554.9 616.1h19.8v5.17h-19.8zM254.0 620.9h4.2v5.17h-4.2zM371.3 620.9h8.1v5.17h-8.1zM386.9 620.9h12.0v5.17h-12.0zM410.3 620.9h31.6v5.17h-31.6zM453.3 620.9h4.2v5.17h-4.2zM461.1 620.9h15.9v5.17h-15.9zM500.2 620.9h19.8v5.17h-19.8zM531.5 620.9h8.1v5.17h-8.1zM562.7 620.9h4.2v5.17h-4.2zM258.0 625.8h4.2v5.17h-4.2zM406.4 625.8h15.9v5.17h-15.9zM426.0 625.8h15.9v5.17h-15.9zM465.0 625.8h8.1v5.17h-8.1zM476.8 625.8h4.2v5.17h-4.2zM504.1 625.8h8.1v5.17h-8.1zM515.8 625.8h4.2v5.17h-4.2zM230.6 630.7h8.1v5.17h-8.1zM258.0 630.7h4.2v5.17h-4.2zM320.5 630.7h4.2v5.17h-4.2zM336.1 630.7h8.1v5.17h-8.1zM375.2 630.7h4.2v5.17h-4.2zM402.5 630.7h39.4v5.17h-39.4zM480.7 630.7h4.2v5.17h-4.2zM508.0 630.7h12.0v5.17h-12.0zM402.5 635.5h23.7v5.17h-23.7zM429.9 635.5h8.1v5.17h-8.1zM500.2 635.5h8.1v5.17h-8.1zM539.3 635.5h8.1v5.17h-8.1zM398.6 640.4h23.7v5.17h-23.7zM426.0 640.4h4.2v5.17h-4.2zM433.8 640.4h4.2v5.17h-4.2zM496.3 640.4h8.1v5.17h-8.1zM508.0 640.4h4.2v5.17h-4.2zM539.3 640.4h8.1v5.17h-8.1zM551.0 640.4h4.2v5.17h-4.2zM398.6 645.3h31.6v5.17h-31.6zM433.8 645.3h4.2v5.17h-4.2zM472.9 645.3h4.2v5.17h-4.2zM398.6 650.1h31.6v5.17h-31.6zM398.6 655.0h27.7v5.17h-27.7zM433.8 655.0h4.2v5.17h-4.2zM500.2 655.0h4.2v5.17h-4.2zM519.8 655.0h4.2v5.17h-4.2zM347.8 659.9h4.2v5.17h-4.2zM375.2 659.9h4.2v5.17h-4.2zM402.5 659.9h23.7v5.17h-23.7zM437.7 659.9h8.1v5.17h-8.1zM488.5 659.9h8.1v5.17h-8.1zM511.9 659.9h4.2v5.17h-4.2zM343.9 664.7h4.2v5.17h-4.2zM371.3 664.7h4.2v5.17h-4.2zM406.4 664.7h19.8v5.17h-19.8zM527.6 664.7h4.2v5.17h-4.2zM543.2 664.7h12.0v5.17h-12.0zM332.2 669.6h4.2v5.17h-4.2zM367.4 669.6h8.1v5.17h-8.1zM390.8 669.6h8.1v5.17h-8.1zM406.4 669.6h8.1v5.17h-8.1zM418.2 669.6h8.1v5.17h-8.1zM433.8 669.6h4.2v5.17h-4.2zM523.7 669.6h15.9v5.17h-15.9zM551.0 669.6h4.2v5.17h-4.2zM308.7 674.5h4.2v5.17h-4.2zM328.3 674.5h8.1v5.17h-8.1zM363.5 674.5h8.1v5.17h-8.1zM390.8 674.5h12.0v5.17h-12.0zM418.2 674.5h8.1v5.17h-8.1zM328.3 679.3h8.1v5.17h-8.1zM363.5 679.3h4.2v5.17h-4.2zM394.7 679.3h8.1v5.17h-8.1zM414.3 679.3h15.9v5.17h-15.9zM394.7 684.2h4.2v5.17h-4.2zM418.2 684.2h12.0v5.17h-12.0zM410.3 694.0h4.2v5.17h-4.2zM492.4 694.0h4.2v5.17h-4.2zM394.7 703.7h4.2v5.17h-4.2zM414.3 703.7h4.2v5.17h-4.2z"/>
<path fill="#5b9a62" d="M320.5 543.0h4.2v5.17h-4.2zM351.7 557.6h4.2v5.17h-4.2zM406.4 562.5h4.2v5.17h-4.2zM320.5 577.1h4.2v5.17h-4.2zM496.3 582.0h4.2v5.17h-4.2z"/>

</g>
<g clip-path="url(#kb)" shape-rendering="crispEdges">
<path fill="#b5d9b5" d="M144.6 494.3h4.2v5.17h-4.2zM132.9 499.2h19.8v5.17h-19.8zM136.8 504.1h15.9v5.17h-15.9zM152.4 508.9h4.2v5.17h-4.2zM168.1 508.9h4.2v5.17h-4.2zM183.7 508.9h4.2v5.17h-4.2zM148.5 513.8h12.0v5.17h-12.0zM168.1 513.8h8.1v5.17h-8.1zM179.8 513.8h15.9v5.17h-15.9zM183.7 518.7h12.0v5.17h-12.0zM207.2 518.7h12.0v5.17h-12.0zM211.1 523.5h23.7v5.17h-23.7zM207.2 528.4h4.2v5.17h-4.2z"/>
<path fill="#89b88b" d="M132.9 494.3h4.2v5.17h-4.2zM152.4 499.2h8.1v5.17h-8.1zM152.4 504.1h12.0v5.17h-12.0zM168.1 504.1h4.2v5.17h-4.2zM140.7 508.9h12.0v5.17h-12.0zM156.4 508.9h4.2v5.17h-4.2zM164.2 508.9h4.2v5.17h-4.2zM179.8 508.9h4.2v5.17h-4.2zM160.3 513.8h8.1v5.17h-8.1zM199.3 513.8h4.2v5.17h-4.2zM234.5 513.8h4.2v5.17h-4.2zM199.3 518.7h4.2v5.17h-4.2zM218.9 518.7h8.1v5.17h-8.1zM187.6 523.5h4.2v5.17h-4.2zM199.3 523.5h12.0v5.17h-12.0zM203.2 528.4h4.2v5.17h-4.2zM211.1 528.4h8.1v5.17h-8.1z"/>

</g>
<g fill="none" stroke="#000" stroke-width="1.7" stroke-linejoin="round" stroke-linecap="round">
<path d="M123.7 484.7 129.4 486.8 132.4 489.9 133.7 494.2 140.6 494.7 141.5 497.3 146.7 496.8 148.4 501.6 153.6 501.6 160.6 503.8 165.8 505.5 169.3 508.5 176.2 509.8 183.1 511.1 190.1 512.9 195.3 515.5 200.5 517.6 207.4 518.9 213.5 520.7 217.6 519.4 223.7 520.3 230.6 520.1 236.7 518.6 241.0 515.1 247.1 511.2 253.2 509.5 258.4 506.9 261.8 504.3 264.0 508.6 272.3 504.3 271.8 498.5 280.9 494.3 287.0 490.4 294.8 486.9 298.3 485.2 305.7 491.3 310.1 489.2 318.9 486.1 329.0 481.6 334.1 476.6 342.9 473.4 350.5 476.0 356.8 474.1 368.1 473.4 380.8 469.7 390.9 466.5 403.5 464.4 407.9 469.7 416.1 466.5 426.2 464.6 433.8 466.5 440.1 462.7 447.6 457.0 455.1 455.1 464.0 454.5 475.3 457.0 485.4 460.8 495.5 465.2 505.6 470.9 510.7 473.4 514.4 474.7 519.5 480.4 524.5 484.2 533.4 487.3 540.9 487.7 548.5 487.3 553.6 490.5 558.6 496.2 564.3 501.5 558.6 506.2 555.5 508.8 558.0 514.4 557.4 520.8 561.1 523.9 563.0 526.3 565.6 533.9 570.0 541.5 575.6 549.0 578.8 556.0 585.1 557.9 594.6 561.0 592.7 567.9 590.2 576.8 592.7 583.1 590.8 591.9 588.9 598.2 586.4 606.3 578.8 613.9 575.0 621.5 566.2 629.0 558.6 637.9 553.6 646.7 551.0 654.3 550.4 661.8 552.3 668.1 551.0 674.4 547.9 682.0 540.9 688.3 533.4 693.4 527.1 697.2 523.3 700.0 515.7 699.7 510.7 697.2 511.9 694.0 505.6 694.0 504.4 688.3 501.2 687.1 499.3 692.1 495.5 693.4 491.7 695.3 490.5 688.3 488.4 684.0 485.2 680.2 480.8 676.4 477.6 681.5 477.0 687.8 473.2 691.5 470.1 689.7 463.8 686.5 458.7 682.7 451.1 681.5 446.1 684.0 441.0 689.7 433.5 693.4 425.9 696.6 422.1 702.9 419.6 707.3 410.8 708.6 401.9 707.7 395.0 708.6 393.1 702.9 393.1 696.6 387.4 695.3 386.8 689.0 383.0 684.0 379.2 683.3 378.6 686.5 371.6 685.9 365.3 684.0 359.0 682.1 354.0 684.6 348.9 690.3 348.9 697.9 345.8 701.0 342.6 695.3 345.1 689.0 341.4 684.6 336.3 685.9 332.2 687.7 328.4 687.3 324.6 686.8 321.8 689.1 317.1 689.1 311.4 684.9 307.6 685.4 304.8 686.8 300.0 686.8 298.1 683.9 294.4 679.2 290.6 675.4 286.8 671.2 283.0 672.6 279.2 673.5 275.4 670.7 271.6 667.9 269.7 661.7 266.0 660.8 261.7 663.6 258.4 659.3 255.6 655.6 248.9 652.7 244.2 648.9 239.9 646.1 239.5 641.8 237.2 640.8 229.6 639.5 226.4 640.8 222.6 647.1 219.5 642.0 214.4 638.9 206.9 635.7 203.1 631.9 199.3 628.1 194.3 628.8 190.5 626.9 186.7 621.2 186.1 615.5 184.2 609.2 181.0 604.2 181.0 597.9 185.4 596.0 186.7 600.4 191.1 601.0 193.6 595.3 193.0 589.0 189.2 582.7 184.8 576.4 185.4 568.8 190.4 563.1 187.9 561.5 182.8 559.0 177.8 555.9 175.2 548.9 174.0 543.9 176.5 541.1 167.5 541.1 160.6 539.3 153.6 536.7 151.0 533.3 145.8 533.3 142.4 528.9 143.2 524.6 141.5 519.4 138.0 516.8 134.6 516.3 132.8 513.3 128.5 511.6 123.3 510.3 118.9 509.4 119.4 507.2 125.0 506.4 128.5 504.6 128.9 502.0 125.9 498.6 126.3 493.4 124.1 489.9Z"/>
<path d="M130.2 488.1 130.7 491.6 133.3 496.0 136.3 502.0 140.6 508.1 146.7 512.4 153.6 515.5 161.4 518.1 165.8 517.2 171.0 514.6 176.2 514.6 181.4 517.6 187.5 522.0 193.5 526.3 200.5 528.1 207.4 529.4 215.0 529.9 223.7 527.7 230.6 525.5 235.8 524.2 241.0 525.5 249.7 525.1 258.4 524.2 265.3 522.5 270.5 519.9 274.0 515.1 277.5 512.9 284.4 512.1 293.1 511.6 300.0 509.9 305.2 506.4 312.6 501.8 325.2 495.5 337.9 491.1 349.2 489.2 356.8 484.2 366.9 478.5 378.2 474.1 388.3 470.9 398.4 467.8 403.5 464.4M236.7 519.0 243.6 519.4 251.4 518.1 258.4 516.0 265.3 512.5 271.4 509.0 280.1 505.6 290.5 502.1 297.4 498.2 300.5 494.7 305.7 491.3M349.2 489.2 353.0 495.5 363.1 501.8 372.6 507.5 375.7 515.7 377.6 522.0 377.0 528.3 373.2 531.5 363.1 533.4 353.0 533.1 344.2 529.6 335.3 529.0 325.2 530.2 316.4 532.1 307.6 539.7 301.4 545.1 290.1 554.0 276.2 561.5 261.0 569.7 248.4 574.8 237.1 577.9M190.4 563.1 194.2 564.1 200.5 567.9 206.8 564.7 216.9 563.8 223.2 567.9 229.5 572.3 234.5 575.4 237.1 577.9M237.1 577.9 230.8 581.7 224.4 586.8 220.0 593.1 220.0 600.7 221.3 609.5 222.6 617.1 224.4 624.0 230.8 627.2 238.4 630.0 245.6 632.8 242.2 637.6 239.7 640.8M245.6 632.8 252.7 632.4 257.4 635.7 262.2 638.5 267.9 643.2 273.5 648.0 279.2 651.3 284.9 652.7 290.6 652.7 295.3 649.9 299.1 648.0 305.7 648.5 313.3 648.0 318.0 645.1 322.7 642.3 328.4 641.8 335.0 644.2 341.7 644.7 350.0 644.2 355.6 644.8 362.6 646.7 367.0 642.9 372.0 637.9 378.3 634.7 384.0 629.7M384.0 629.7 385.3 622.7 385.3 613.9 382.7 606.3 383.4 600.0 385.9 594.4 388.4 585.6 392.2 578.0 398.5 571.7 406.1 568.0 416.2 563.5 423.8 557.9 429.4 553.4 428.8 549.0 432.6 545.9 441.4 544.6 450.0 546.5 461.5 545.9 472.8 545.2 484.2 546.5 494.3 548.4 500.6 548.4 508.1 545.2 518.2 545.9 525.8 544.6 530.9 542.1 533.9 537.7 535.9 535.2M377.6 522.0 385.8 524.5 394.6 526.1 407.3 524.3 419.9 523.9 426.2 524.8 427.4 527.1 431.2 528.3 436.3 526.4 446.4 525.8 451.4 524.8 453.9 528.3 457.7 533.4 459.6 529.0 466.5 530.2 472.8 535.3M426.2 464.6 426.2 468.4 430.0 470.9 438.8 472.8 445.1 477.9 441.3 482.3 435.0 484.8 435.6 490.5 440.1 495.5 447.6 498.0 456.4 499.9 465.2 501.2 474.1 501.8 480.4 502.5 482.9 505.6 486.7 510.7 490.5 515.1 488.6 519.5 484.2 524.5 479.1 530.9 472.8 535.3M472.8 535.3 481.6 533.4 490.5 528.3 494.3 522.0 499.3 519.5 508.1 520.1 517.0 522.0 523.3 522.6 525.8 520.8 527.1 514.4 530.2 510.7 529.6 506.9 535.9 504.4 544.7 503.1 551.0 505.6 555.5 508.8M525.8 520.8 529.6 527.1 533.4 533.4 535.9 535.2 537.2 535.8 540.9 539.6 549.8 537.0 561.1 535.8 565.6 536.4M549.8 537.0 549.1 544.0 550.4 552.8 551.7 561.6 556.1 567.9 559.9 573.0 561.8 579.3 564.3 588.1 571.2 590.7 576.3 592.6 582.6 590.7 590.8 591.9M551.7 561.6 553.6 563.5 566.2 562.9 578.8 562.6 594.6 561.4M500.6 548.4 501.8 552.8 499.3 556.6 494.3 559.1 490.5 564.2 487.9 567.3 477.9 569.8 467.8 572.4 460.2 575.5 455.1 580.6 447.6 585.6 441.4 588.8 432.6 594.4 423.8 598.2 417.4 601.4 411.1 603.9 406.1 609.0 404.2 618.9 404.5 627.1M384.0 629.7 389.7 631.5 397.3 630.3 404.5 627.1M564.3 588.1 558.6 594.4 552.3 600.8 547.3 603.3 539.7 600.8 533.4 603.9 527.1 605.8 520.8 608.3 515.7 607.1 514.4 610.9 508.1 610.2 500.6 607.1 493.0 602.0 485.4 598.2 476.6 595.1 469.0 595.1 461.5 598.2 457.7 603.3 456.4 608.3 453.9 614.0 447.6 613.9 441.4 612.6 435.1 616.4 428.8 621.5 425.0 627.1 417.4 630.3 408.6 629.7 404.5 627.1M404.5 627.1 402.3 637.9 398.5 645.4 397.9 650.5 402.3 655.5 405.5 663.1 406.1 671.9 404.4 678.2 398.1 683.3 390.6 686.5 384.3 685.9M406.1 671.9 416.2 673.2 422.5 670.0 428.8 663.1 435.1 656.8 441.4 653.6 447.6 653.6 456.4 656.2 462.7 659.9 468.4 663.7 472.2 659.3 475.9 663.1 479.1 669.4 482.9 675.7 487.3 680.8M520.8 608.3 525.8 615.1 530.9 622.7 535.9 631.5 540.9 640.4 546.0 644.8 544.1 653.0 542.8 661.8 544.1 666.9 551.0 672.6M544.1 666.9 539.7 673.2 533.4 678.2 525.8 684.5 518.2 688.3 511.9 693.4 510.7 697.2"/>
</g>
<g stroke="#2a2627" fill="none">
<rect x="111.7" y="433.4" width="500.5" height="292.3" stroke-width="1.2"/>
<path d="M127.2 433.4v-5.4M127.2 725.7v5.6M205.4 433.4v-5.4M205.4 725.7v5.6M283.5 433.4v-5.4M283.5 725.7v5.6M361.7 433.4v-5.4M361.7 725.7v5.6M439.8 433.4v-5.4M439.8 725.7v5.6M518.0 433.4v-5.4M518.0 725.7v5.6M596.1 433.4v-5.4M596.1 725.7v5.6M111.7 725.8h-5.8M612.2 725.8h5.2M111.7 686.8h-5.8M612.2 686.8h5.2M111.7 647.9h-5.8M612.2 647.9h5.2M111.7 608.9h-5.8M612.2 608.9h5.2M111.7 570.0h-5.8M612.2 570.0h5.2M111.7 531.0h-5.8M612.2 531.0h5.2M111.7 492.1h-5.8M612.2 492.1h5.2M111.7 453.1h-5.8M612.2 453.1h5.2" stroke-width="1.1"/>
</g>
<text transform="translate(110.70 419.80) scale(1.025 1)" font-size="22.20" text-anchor="start">75°E</text>
<text transform="translate(110.70 755.20) scale(1.025 1)" font-size="22.20" text-anchor="start">75°E</text>
<text transform="translate(188.85 419.80) scale(1.025 1)" font-size="22.20" text-anchor="start">80°E</text>
<text transform="translate(188.85 755.20) scale(1.025 1)" font-size="22.20" text-anchor="start">80°E</text>
<text transform="translate(267.00 419.80) scale(1.025 1)" font-size="22.20" text-anchor="start">85°E</text>
<text transform="translate(267.00 755.20) scale(1.025 1)" font-size="22.20" text-anchor="start">85°E</text>
<text transform="translate(345.15 419.80) scale(1.025 1)" font-size="22.20" text-anchor="start">90°E</text>
<text transform="translate(345.15 755.20) scale(1.025 1)" font-size="22.20" text-anchor="start">90°E</text>
<text transform="translate(423.30 419.80) scale(1.025 1)" font-size="22.20" text-anchor="start">95°E</text>
<text transform="translate(423.30 755.20) scale(1.025 1)" font-size="22.20" text-anchor="start">95°E</text>
<text transform="translate(489.95 419.80) scale(1.025 1)" font-size="22.20" text-anchor="start">100°E</text>
<text transform="translate(489.95 755.20) scale(1.025 1)" font-size="22.20" text-anchor="start">100°E</text>
<text transform="translate(568.10 419.80) scale(1.025 1)" font-size="22.20" text-anchor="start">105°E</text>
<text transform="translate(568.10 755.20) scale(1.025 1)" font-size="22.20" text-anchor="start">105°E</text>
<text transform="translate(97.80 732.35) scale(0.985 1)" font-size="22.20" text-anchor="end">26°N</text>
<text transform="translate(97.80 693.40) scale(0.985 1)" font-size="22.20" text-anchor="end">28°N</text>
<text transform="translate(97.80 654.45) scale(0.985 1)" font-size="22.20" text-anchor="end">30°N</text>
<text transform="translate(97.80 615.50) scale(0.985 1)" font-size="22.20" text-anchor="end">32°N</text>
<text transform="translate(97.80 576.55) scale(0.985 1)" font-size="22.20" text-anchor="end">34°N</text>
<text transform="translate(97.80 537.60) scale(0.985 1)" font-size="22.20" text-anchor="end">36°N</text>
<text transform="translate(97.80 498.65) scale(0.985 1)" font-size="22.20" text-anchor="end">38°N</text>
<text transform="translate(97.80 459.70) scale(0.985 1)" font-size="22.20" text-anchor="end">40°N</text>
<text transform="translate(120.90 456.00) scale(1.050 1)" font-size="22.00" text-anchor="start">(b)</text>
<text class="s" x="156.5" y="459.9" font-size="14.8" style="fill:#1d5a36">+</text>
<text class="s" x="167.0" y="460.3" font-size="11.5" style="fill:#1d5a36">:</text>
<text class="s" x="181.6" y="459.9" font-size="14.8" style="fill:#1d5a36">98%</text>
<text class="s" x="161.5" y="483.5" font-size="14.8" style="fill:#b152a8">-</text>
<text class="s" x="167.0" y="483.9" font-size="11.5" style="fill:#b152a8">:</text>
<text class="s" x="182.2" y="483.5" font-size="14.8" style="fill:#b152a8">2%</text>
<g clip-path="url(#cc)" shape-rendering="crispEdges">
<path fill="#ba6fb0" d="M1120.5 528.4h4.2v5.17h-4.2zM1132.2 538.2h4.2v5.17h-4.2zM905.6 650.1h4.2v5.17h-4.2zM905.6 655.0h4.2v5.17h-4.2z"/>
<path fill="#cc8fc4" d="M1026.7 474.9h4.2v5.17h-4.2zM1097.1 494.3h4.2v5.17h-4.2zM1069.7 504.1h4.2v5.17h-4.2zM1077.5 504.1h4.2v5.17h-4.2zM1085.4 504.1h4.2v5.17h-4.2zM1069.7 508.9h4.2v5.17h-4.2zM1077.5 513.8h4.2v5.17h-4.2zM1073.6 518.7h4.2v5.17h-4.2zM1120.5 518.7h4.2v5.17h-4.2zM1069.7 523.5h4.2v5.17h-4.2zM1116.6 523.5h15.9v5.17h-15.9zM1069.7 528.4h8.1v5.17h-8.1zM1116.6 528.4h4.2v5.17h-4.2zM1124.4 528.4h8.1v5.17h-8.1zM1069.7 533.3h4.2v5.17h-4.2zM1112.7 533.3h23.7v5.17h-23.7zM1112.7 538.2h19.8v5.17h-19.8zM1112.7 543.0h19.8v5.17h-19.8zM1108.8 547.9h12.0v5.17h-12.0zM1128.3 547.9h4.2v5.17h-4.2zM1030.6 591.7h4.2v5.17h-4.2zM1058.0 591.7h4.2v5.17h-4.2zM1069.7 596.6h4.2v5.17h-4.2zM1069.7 601.4h12.0v5.17h-12.0zM944.7 606.3h4.2v5.17h-4.2zM952.5 606.3h8.1v5.17h-8.1zM1030.6 606.3h4.2v5.17h-4.2zM1073.6 606.3h8.1v5.17h-8.1zM952.5 611.2h8.1v5.17h-8.1zM1026.7 611.2h4.2v5.17h-4.2zM956.4 616.1h4.2v5.17h-4.2zM1026.7 616.1h12.0v5.17h-12.0zM1042.4 616.1h4.2v5.17h-4.2zM1026.7 620.9h23.7v5.17h-23.7zM1038.5 625.8h8.1v5.17h-8.1zM901.7 635.5h12.0v5.17h-12.0zM1038.5 635.5h12.0v5.17h-12.0zM905.6 640.4h8.1v5.17h-8.1zM893.9 645.3h4.2v5.17h-4.2zM901.7 645.3h19.8v5.17h-19.8zM886.1 650.1h19.8v5.17h-19.8zM913.4 650.1h4.2v5.17h-4.2zM886.1 655.0h19.8v5.17h-19.8zM909.5 655.0h4.2v5.17h-4.2zM893.9 659.9h12.0v5.17h-12.0z"/>
<path fill="#dcaed5" d="M1058.0 465.1h12.0v5.17h-12.0zM1026.7 470.0h8.1v5.17h-8.1zM1030.6 474.9h4.2v5.17h-4.2zM1065.8 484.6h4.2v5.17h-4.2zM1097.1 484.6h4.2v5.17h-4.2zM1058.0 489.5h15.9v5.17h-15.9zM1077.5 489.5h23.7v5.17h-23.7zM1026.7 494.3h4.2v5.17h-4.2zM1034.6 494.3h4.2v5.17h-4.2zM1054.1 494.3h43.3v5.17h-43.3zM1101.0 494.3h4.2v5.17h-4.2zM1108.8 494.3h8.1v5.17h-8.1zM1058.0 499.2h66.7v5.17h-66.7zM1046.3 504.1h4.2v5.17h-4.2zM1058.0 504.1h12.0v5.17h-12.0zM1073.6 504.1h4.2v5.17h-4.2zM1089.3 504.1h23.7v5.17h-23.7zM1120.5 504.1h8.1v5.17h-8.1zM1058.0 508.9h12.0v5.17h-12.0zM1073.6 508.9h8.1v5.17h-8.1zM1093.2 508.9h4.2v5.17h-4.2zM1101.0 508.9h12.0v5.17h-12.0zM1116.6 508.9h8.1v5.17h-8.1zM1054.1 513.8h23.7v5.17h-23.7zM1081.4 513.8h15.9v5.17h-15.9zM1104.9 513.8h8.1v5.17h-8.1zM1116.6 513.8h8.1v5.17h-8.1zM1058.0 518.7h15.9v5.17h-15.9zM1077.5 518.7h19.8v5.17h-19.8zM1101.0 518.7h19.8v5.17h-19.8zM1124.4 518.7h4.2v5.17h-4.2zM1061.9 523.5h8.1v5.17h-8.1zM1073.6 523.5h8.1v5.17h-8.1zM1085.4 523.5h31.6v5.17h-31.6zM1061.9 528.4h8.1v5.17h-8.1zM1077.5 528.4h39.4v5.17h-39.4zM1046.3 533.3h4.2v5.17h-4.2zM1058.0 533.3h12.0v5.17h-12.0zM1073.6 533.3h8.1v5.17h-8.1zM1089.3 533.3h8.1v5.17h-8.1zM1104.9 533.3h8.1v5.17h-8.1zM1065.8 538.2h43.3v5.17h-43.3zM1077.5 543.0h15.9v5.17h-15.9zM1097.1 543.0h12.0v5.17h-12.0zM1132.2 543.0h8.1v5.17h-8.1zM1081.4 547.9h12.0v5.17h-12.0zM1104.9 547.9h4.2v5.17h-4.2zM1120.5 547.9h8.1v5.17h-8.1zM1132.2 547.9h4.2v5.17h-4.2zM1140.1 547.9h4.2v5.17h-4.2zM960.3 552.8h4.2v5.17h-4.2zM1104.9 552.8h23.7v5.17h-23.7zM1132.2 552.8h8.1v5.17h-8.1zM964.2 557.6h4.2v5.17h-4.2zM1104.9 557.6h23.7v5.17h-23.7zM1132.2 557.6h4.2v5.17h-4.2zM1050.2 562.5h4.2v5.17h-4.2zM1093.2 562.5h8.1v5.17h-8.1zM1104.9 562.5h4.2v5.17h-4.2zM1120.5 562.5h12.0v5.17h-12.0zM1042.4 567.4h4.2v5.17h-4.2zM1124.4 567.4h8.1v5.17h-8.1zM917.3 572.2h8.1v5.17h-8.1zM975.9 572.2h4.2v5.17h-4.2zM1034.6 572.2h12.0v5.17h-12.0zM1124.4 572.2h4.2v5.17h-4.2zM975.9 577.1h4.2v5.17h-4.2zM1030.6 577.1h12.0v5.17h-12.0zM1073.6 577.1h8.1v5.17h-8.1zM1155.7 577.1h4.2v5.17h-4.2zM972.0 582.0h12.0v5.17h-12.0zM1022.8 582.0h4.2v5.17h-4.2zM1073.6 582.0h15.9v5.17h-15.9zM929.1 586.8h4.2v5.17h-4.2zM948.6 586.8h8.1v5.17h-8.1zM964.2 586.8h19.8v5.17h-19.8zM1015.0 586.8h19.8v5.17h-19.8zM1058.0 586.8h8.1v5.17h-8.1zM1073.6 586.8h19.8v5.17h-19.8zM1101.0 586.8h8.1v5.17h-8.1zM909.5 591.7h8.1v5.17h-8.1zM925.1 591.7h4.2v5.17h-4.2zM933.0 591.7h4.2v5.17h-4.2zM948.6 591.7h12.0v5.17h-12.0zM968.1 591.7h8.1v5.17h-8.1zM979.9 591.7h4.2v5.17h-4.2zM1015.0 591.7h15.9v5.17h-15.9zM1034.6 591.7h4.2v5.17h-4.2zM1054.1 591.7h4.2v5.17h-4.2zM1061.9 591.7h35.5v5.17h-35.5zM1101.0 591.7h4.2v5.17h-4.2zM1108.8 591.7h8.1v5.17h-8.1zM878.3 596.6h4.2v5.17h-4.2zM901.7 596.6h8.1v5.17h-8.1zM944.7 596.6h12.0v5.17h-12.0zM972.0 596.6h12.0v5.17h-12.0zM1011.1 596.6h27.7v5.17h-27.7zM1054.1 596.6h15.9v5.17h-15.9zM1073.6 596.6h15.9v5.17h-15.9zM1093.2 596.6h4.2v5.17h-4.2zM1112.7 596.6h4.2v5.17h-4.2zM878.3 601.4h4.2v5.17h-4.2zM933.0 601.4h4.2v5.17h-4.2zM944.7 601.4h23.7v5.17h-23.7zM972.0 601.4h12.0v5.17h-12.0zM1007.2 601.4h31.6v5.17h-31.6zM1054.1 601.4h4.2v5.17h-4.2zM1061.9 601.4h8.1v5.17h-8.1zM1081.4 601.4h4.2v5.17h-4.2zM1093.2 601.4h8.1v5.17h-8.1zM827.5 606.3h4.2v5.17h-4.2zM933.0 606.3h12.0v5.17h-12.0zM948.6 606.3h4.2v5.17h-4.2zM960.3 606.3h8.1v5.17h-8.1zM972.0 606.3h12.0v5.17h-12.0zM999.4 606.3h31.6v5.17h-31.6zM1034.6 606.3h4.2v5.17h-4.2zM1046.3 606.3h8.1v5.17h-8.1zM1058.0 606.3h4.2v5.17h-4.2zM1065.8 606.3h8.1v5.17h-8.1zM1081.4 606.3h4.2v5.17h-4.2zM1101.0 606.3h4.2v5.17h-4.2zM913.4 611.2h4.2v5.17h-4.2zM925.1 611.2h4.2v5.17h-4.2zM933.0 611.2h12.0v5.17h-12.0zM960.3 611.2h19.8v5.17h-19.8zM1015.0 611.2h4.2v5.17h-4.2zM1022.8 611.2h4.2v5.17h-4.2zM1030.6 611.2h27.7v5.17h-27.7zM1061.9 611.2h4.2v5.17h-4.2zM1069.7 611.2h15.9v5.17h-15.9zM890.0 616.1h4.2v5.17h-4.2zM913.4 616.1h4.2v5.17h-4.2zM933.0 616.1h23.7v5.17h-23.7zM960.3 616.1h19.8v5.17h-19.8zM1011.1 616.1h15.9v5.17h-15.9zM1038.5 616.1h4.2v5.17h-4.2zM1046.3 616.1h8.1v5.17h-8.1zM1069.7 616.1h4.2v5.17h-4.2zM886.1 620.9h12.0v5.17h-12.0zM917.3 620.9h8.1v5.17h-8.1zM940.8 620.9h12.0v5.17h-12.0zM956.4 620.9h8.1v5.17h-8.1zM968.1 620.9h4.2v5.17h-4.2zM1018.9 620.9h8.1v5.17h-8.1zM1050.2 620.9h4.2v5.17h-4.2zM1058.0 620.9h4.2v5.17h-4.2zM1073.6 620.9h4.2v5.17h-4.2zM819.6 625.8h4.2v5.17h-4.2zM897.8 625.8h4.2v5.17h-4.2zM925.1 625.8h4.2v5.17h-4.2zM944.7 625.8h4.2v5.17h-4.2zM1022.8 625.8h15.9v5.17h-15.9zM1046.3 625.8h4.2v5.17h-4.2zM815.7 630.7h19.8v5.17h-19.8zM843.1 630.7h4.2v5.17h-4.2zM866.5 630.7h8.1v5.17h-8.1zM882.2 630.7h4.2v5.17h-4.2zM893.9 630.7h23.7v5.17h-23.7zM925.1 630.7h4.2v5.17h-4.2zM1022.8 630.7h31.6v5.17h-31.6zM823.6 635.5h8.1v5.17h-8.1zM839.2 635.5h8.1v5.17h-8.1zM866.5 635.5h4.2v5.17h-4.2zM878.3 635.5h4.2v5.17h-4.2zM890.0 635.5h4.2v5.17h-4.2zM897.8 635.5h4.2v5.17h-4.2zM921.2 635.5h8.1v5.17h-8.1zM1022.8 635.5h15.9v5.17h-15.9zM1077.5 635.5h4.2v5.17h-4.2zM827.5 640.4h15.9v5.17h-15.9zM847.0 640.4h4.2v5.17h-4.2zM854.8 640.4h8.1v5.17h-8.1zM870.4 640.4h8.1v5.17h-8.1zM882.2 640.4h4.2v5.17h-4.2zM890.0 640.4h4.2v5.17h-4.2zM897.8 640.4h8.1v5.17h-8.1zM913.4 640.4h12.0v5.17h-12.0zM1034.6 640.4h15.9v5.17h-15.9zM831.4 645.3h8.1v5.17h-8.1zM847.0 645.3h8.1v5.17h-8.1zM866.5 645.3h12.0v5.17h-12.0zM882.2 645.3h4.2v5.17h-4.2zM897.8 645.3h4.2v5.17h-4.2zM921.2 645.3h4.2v5.17h-4.2zM936.9 645.3h8.1v5.17h-8.1zM835.3 650.1h12.0v5.17h-12.0zM850.9 650.1h8.1v5.17h-8.1zM866.5 650.1h19.8v5.17h-19.8zM909.5 650.1h4.2v5.17h-4.2zM917.3 650.1h8.1v5.17h-8.1zM936.9 650.1h4.2v5.17h-4.2zM839.2 655.0h8.1v5.17h-8.1zM862.6 655.0h23.7v5.17h-23.7zM913.4 655.0h12.0v5.17h-12.0zM870.4 659.9h4.2v5.17h-4.2zM878.3 659.9h8.1v5.17h-8.1zM905.6 659.9h4.2v5.17h-4.2z"/>
<path fill="#eed5ea" d="M1018.9 450.5h15.9v5.17h-15.9zM1015.0 455.4h8.1v5.17h-8.1zM1030.6 455.4h19.8v5.17h-19.8zM1034.6 460.3h8.1v5.17h-8.1zM1058.0 460.3h4.2v5.17h-4.2zM1042.4 465.1h4.2v5.17h-4.2zM1050.2 465.1h8.1v5.17h-8.1zM1042.4 470.0h4.2v5.17h-4.2zM1054.1 470.0h27.7v5.17h-27.7zM1054.1 474.9h4.2v5.17h-4.2zM1061.9 474.9h12.0v5.17h-12.0zM1077.5 474.9h8.1v5.17h-8.1zM1058.0 479.7h15.9v5.17h-15.9zM1081.4 479.7h12.0v5.17h-12.0zM1050.2 484.6h15.9v5.17h-15.9zM1069.7 484.6h23.7v5.17h-23.7zM1101.0 484.6h15.9v5.17h-15.9zM1054.1 489.5h4.2v5.17h-4.2zM1073.6 489.5h4.2v5.17h-4.2zM1101.0 489.5h19.8v5.17h-19.8zM1030.6 494.3h4.2v5.17h-4.2zM1038.5 494.3h8.1v5.17h-8.1zM1050.2 494.3h4.2v5.17h-4.2zM1104.9 494.3h4.2v5.17h-4.2zM1116.6 494.3h12.0v5.17h-12.0zM1026.7 499.2h8.1v5.17h-8.1zM1050.2 499.2h8.1v5.17h-8.1zM1124.4 499.2h4.2v5.17h-4.2zM968.1 504.1h4.2v5.17h-4.2zM975.9 504.1h4.2v5.17h-4.2zM1042.4 504.1h4.2v5.17h-4.2zM1050.2 504.1h8.1v5.17h-8.1zM1112.7 504.1h8.1v5.17h-8.1zM925.1 508.9h4.2v5.17h-4.2zM1046.3 508.9h12.0v5.17h-12.0zM1097.1 508.9h4.2v5.17h-4.2zM1112.7 508.9h4.2v5.17h-4.2zM1050.2 513.8h4.2v5.17h-4.2zM1097.1 513.8h8.1v5.17h-8.1zM1112.7 513.8h4.2v5.17h-4.2zM1042.4 518.7h4.2v5.17h-4.2zM1050.2 518.7h8.1v5.17h-8.1zM1097.1 518.7h4.2v5.17h-4.2zM1038.5 523.5h23.7v5.17h-23.7zM1081.4 523.5h4.2v5.17h-4.2zM1018.9 528.4h15.9v5.17h-15.9zM1038.5 528.4h23.7v5.17h-23.7zM1022.8 533.3h4.2v5.17h-4.2zM1038.5 533.3h8.1v5.17h-8.1zM1050.2 533.3h8.1v5.17h-8.1zM1081.4 533.3h8.1v5.17h-8.1zM1097.1 533.3h8.1v5.17h-8.1zM975.9 538.2h4.2v5.17h-4.2zM987.7 538.2h4.2v5.17h-4.2zM1042.4 538.2h23.7v5.17h-23.7zM964.2 543.0h4.2v5.17h-4.2zM1030.6 543.0h15.9v5.17h-15.9zM1058.0 543.0h19.8v5.17h-19.8zM1093.2 543.0h4.2v5.17h-4.2zM913.4 547.9h4.2v5.17h-4.2zM960.3 547.9h12.0v5.17h-12.0zM1034.6 547.9h8.1v5.17h-8.1zM1054.1 547.9h4.2v5.17h-4.2zM1069.7 547.9h4.2v5.17h-4.2zM1077.5 547.9h4.2v5.17h-4.2zM1093.2 547.9h12.0v5.17h-12.0zM1136.2 547.9h4.2v5.17h-4.2zM956.4 552.8h4.2v5.17h-4.2zM964.2 552.8h12.0v5.17h-12.0zM1038.5 552.8h4.2v5.17h-4.2zM1050.2 552.8h4.2v5.17h-4.2zM1065.8 552.8h4.2v5.17h-4.2zM1077.5 552.8h19.8v5.17h-19.8zM1101.0 552.8h4.2v5.17h-4.2zM1128.3 552.8h4.2v5.17h-4.2zM1140.1 552.8h12.0v5.17h-12.0zM913.4 557.6h8.1v5.17h-8.1zM960.3 557.6h4.2v5.17h-4.2zM968.1 557.6h8.1v5.17h-8.1zM979.9 557.6h4.2v5.17h-4.2zM1038.5 557.6h27.7v5.17h-27.7zM1089.3 557.6h15.9v5.17h-15.9zM1128.3 557.6h4.2v5.17h-4.2zM1136.2 557.6h23.7v5.17h-23.7zM913.4 562.5h12.0v5.17h-12.0zM960.3 562.5h23.7v5.17h-23.7zM1030.6 562.5h19.8v5.17h-19.8zM1054.1 562.5h12.0v5.17h-12.0zM1101.0 562.5h4.2v5.17h-4.2zM1108.8 562.5h12.0v5.17h-12.0zM1132.2 562.5h12.0v5.17h-12.0zM1147.9 562.5h12.0v5.17h-12.0zM913.4 567.4h4.2v5.17h-4.2zM925.1 567.4h4.2v5.17h-4.2zM960.3 567.4h27.7v5.17h-27.7zM999.4 567.4h4.2v5.17h-4.2zM1030.6 567.4h12.0v5.17h-12.0zM1046.3 567.4h8.1v5.17h-8.1zM1077.5 567.4h4.2v5.17h-4.2zM1093.2 567.4h19.8v5.17h-19.8zM1116.6 567.4h8.1v5.17h-8.1zM1132.2 567.4h8.1v5.17h-8.1zM1147.9 567.4h12.0v5.17h-12.0zM913.4 572.2h4.2v5.17h-4.2zM925.1 572.2h4.2v5.17h-4.2zM936.9 572.2h4.2v5.17h-4.2zM964.2 572.2h12.0v5.17h-12.0zM979.9 572.2h4.2v5.17h-4.2zM1022.8 572.2h12.0v5.17h-12.0zM1046.3 572.2h8.1v5.17h-8.1zM1073.6 572.2h12.0v5.17h-12.0zM1101.0 572.2h12.0v5.17h-12.0zM1116.6 572.2h8.1v5.17h-8.1zM1128.3 572.2h8.1v5.17h-8.1zM1140.1 572.2h19.8v5.17h-19.8zM780.6 577.1h4.2v5.17h-4.2zM956.4 577.1h4.2v5.17h-4.2zM964.2 577.1h12.0v5.17h-12.0zM979.9 577.1h4.2v5.17h-4.2zM995.5 577.1h4.2v5.17h-4.2zM1022.8 577.1h4.2v5.17h-4.2zM1042.4 577.1h19.8v5.17h-19.8zM1069.7 577.1h4.2v5.17h-4.2zM1081.4 577.1h8.1v5.17h-8.1zM1101.0 577.1h15.9v5.17h-15.9zM1120.5 577.1h12.0v5.17h-12.0zM1140.1 577.1h15.9v5.17h-15.9zM897.8 582.0h4.2v5.17h-4.2zM905.6 582.0h4.2v5.17h-4.2zM913.4 582.0h8.1v5.17h-8.1zM944.7 582.0h4.2v5.17h-4.2zM956.4 582.0h15.9v5.17h-15.9zM1011.1 582.0h12.0v5.17h-12.0zM1026.7 582.0h47.2v5.17h-47.2zM1089.3 582.0h8.1v5.17h-8.1zM1101.0 582.0h19.8v5.17h-19.8zM1124.4 582.0h12.0v5.17h-12.0zM1140.1 582.0h19.8v5.17h-19.8zM796.2 586.8h4.2v5.17h-4.2zM897.8 586.8h15.9v5.17h-15.9zM917.3 586.8h4.2v5.17h-4.2zM933.0 586.8h15.9v5.17h-15.9zM956.4 586.8h8.1v5.17h-8.1zM983.8 586.8h4.2v5.17h-4.2zM991.6 586.8h4.2v5.17h-4.2zM999.4 586.8h4.2v5.17h-4.2zM1007.2 586.8h8.1v5.17h-8.1zM1034.6 586.8h8.1v5.17h-8.1zM1046.3 586.8h12.0v5.17h-12.0zM1065.8 586.8h8.1v5.17h-8.1zM1093.2 586.8h8.1v5.17h-8.1zM1108.8 586.8h12.0v5.17h-12.0zM1132.2 586.8h8.1v5.17h-8.1zM1144.0 586.8h12.0v5.17h-12.0zM780.6 591.7h4.2v5.17h-4.2zM835.3 591.7h8.1v5.17h-8.1zM866.5 591.7h8.1v5.17h-8.1zM878.3 591.7h4.2v5.17h-4.2zM897.8 591.7h4.2v5.17h-4.2zM917.3 591.7h4.2v5.17h-4.2zM929.1 591.7h4.2v5.17h-4.2zM936.9 591.7h12.0v5.17h-12.0zM960.3 591.7h8.1v5.17h-8.1zM975.9 591.7h4.2v5.17h-4.2zM983.8 591.7h8.1v5.17h-8.1zM999.4 591.7h15.9v5.17h-15.9zM1038.5 591.7h4.2v5.17h-4.2zM1050.2 591.7h4.2v5.17h-4.2zM1097.1 591.7h4.2v5.17h-4.2zM1104.9 591.7h4.2v5.17h-4.2zM1116.6 591.7h12.0v5.17h-12.0zM1136.2 591.7h8.1v5.17h-8.1zM1147.9 591.7h4.2v5.17h-4.2zM780.6 596.6h4.2v5.17h-4.2zM831.4 596.6h4.2v5.17h-4.2zM866.5 596.6h12.0v5.17h-12.0zM882.2 596.6h4.2v5.17h-4.2zM897.8 596.6h4.2v5.17h-4.2zM909.5 596.6h8.1v5.17h-8.1zM921.2 596.6h23.7v5.17h-23.7zM956.4 596.6h15.9v5.17h-15.9zM983.8 596.6h8.1v5.17h-8.1zM999.4 596.6h12.0v5.17h-12.0zM1038.5 596.6h4.2v5.17h-4.2zM1046.3 596.6h8.1v5.17h-8.1zM1089.3 596.6h4.2v5.17h-4.2zM1097.1 596.6h15.9v5.17h-15.9zM1116.6 596.6h4.2v5.17h-4.2zM1124.4 596.6h4.2v5.17h-4.2zM1144.0 596.6h8.1v5.17h-8.1zM776.7 601.4h4.2v5.17h-4.2zM800.1 601.4h4.2v5.17h-4.2zM819.6 601.4h4.2v5.17h-4.2zM827.5 601.4h4.2v5.17h-4.2zM866.5 601.4h4.2v5.17h-4.2zM882.2 601.4h12.0v5.17h-12.0zM905.6 601.4h15.9v5.17h-15.9zM936.9 601.4h8.1v5.17h-8.1zM968.1 601.4h4.2v5.17h-4.2zM983.8 601.4h8.1v5.17h-8.1zM995.5 601.4h12.0v5.17h-12.0zM1042.4 601.4h12.0v5.17h-12.0zM1058.0 601.4h4.2v5.17h-4.2zM1085.4 601.4h8.1v5.17h-8.1zM1101.0 601.4h27.7v5.17h-27.7zM776.7 606.3h4.2v5.17h-4.2zM807.9 606.3h8.1v5.17h-8.1zM819.6 606.3h4.2v5.17h-4.2zM831.4 606.3h4.2v5.17h-4.2zM850.9 606.3h12.0v5.17h-12.0zM866.5 606.3h4.2v5.17h-4.2zM878.3 606.3h4.2v5.17h-4.2zM886.1 606.3h35.5v5.17h-35.5zM929.1 606.3h4.2v5.17h-4.2zM968.1 606.3h4.2v5.17h-4.2zM983.8 606.3h4.2v5.17h-4.2zM991.6 606.3h8.1v5.17h-8.1zM1038.5 606.3h8.1v5.17h-8.1zM1054.1 606.3h4.2v5.17h-4.2zM1061.9 606.3h4.2v5.17h-4.2zM1085.4 606.3h15.9v5.17h-15.9zM1104.9 606.3h12.0v5.17h-12.0zM1124.4 606.3h8.1v5.17h-8.1zM807.9 611.2h12.0v5.17h-12.0zM827.5 611.2h8.1v5.17h-8.1zM862.6 611.2h4.2v5.17h-4.2zM870.4 611.2h4.2v5.17h-4.2zM893.9 611.2h4.2v5.17h-4.2zM905.6 611.2h8.1v5.17h-8.1zM921.2 611.2h4.2v5.17h-4.2zM929.1 611.2h4.2v5.17h-4.2zM979.9 611.2h27.7v5.17h-27.7zM1011.1 611.2h4.2v5.17h-4.2zM1018.9 611.2h4.2v5.17h-4.2zM1058.0 611.2h4.2v5.17h-4.2zM1065.8 611.2h4.2v5.17h-4.2zM1085.4 611.2h15.9v5.17h-15.9zM1104.9 611.2h12.0v5.17h-12.0zM776.7 616.1h4.2v5.17h-4.2zM804.0 616.1h8.1v5.17h-8.1zM827.5 616.1h8.1v5.17h-8.1zM854.8 616.1h4.2v5.17h-4.2zM882.2 616.1h4.2v5.17h-4.2zM893.9 616.1h4.2v5.17h-4.2zM909.5 616.1h4.2v5.17h-4.2zM921.2 616.1h12.0v5.17h-12.0zM979.9 616.1h8.1v5.17h-8.1zM991.6 616.1h8.1v5.17h-8.1zM1054.1 616.1h15.9v5.17h-15.9zM1073.6 616.1h15.9v5.17h-15.9zM1104.9 616.1h4.2v5.17h-4.2zM761.0 620.9h8.1v5.17h-8.1zM807.9 620.9h4.2v5.17h-4.2zM831.4 620.9h4.2v5.17h-4.2zM843.1 620.9h4.2v5.17h-4.2zM854.8 620.9h8.1v5.17h-8.1zM882.2 620.9h4.2v5.17h-4.2zM905.6 620.9h12.0v5.17h-12.0zM925.1 620.9h15.9v5.17h-15.9zM952.5 620.9h4.2v5.17h-4.2zM964.2 620.9h4.2v5.17h-4.2zM972.0 620.9h23.7v5.17h-23.7zM1011.1 620.9h8.1v5.17h-8.1zM1054.1 620.9h4.2v5.17h-4.2zM1061.9 620.9h12.0v5.17h-12.0zM1077.5 620.9h12.0v5.17h-12.0zM784.5 625.8h4.2v5.17h-4.2zM815.7 625.8h4.2v5.17h-4.2zM823.6 625.8h4.2v5.17h-4.2zM862.6 625.8h8.1v5.17h-8.1zM882.2 625.8h15.9v5.17h-15.9zM901.7 625.8h23.7v5.17h-23.7zM929.1 625.8h4.2v5.17h-4.2zM936.9 625.8h8.1v5.17h-8.1zM956.4 625.8h15.9v5.17h-15.9zM975.9 625.8h4.2v5.17h-4.2zM1011.1 625.8h12.0v5.17h-12.0zM1050.2 625.8h4.2v5.17h-4.2zM1069.7 625.8h15.9v5.17h-15.9zM764.9 630.7h12.0v5.17h-12.0zM780.6 630.7h8.1v5.17h-8.1zM796.2 630.7h12.0v5.17h-12.0zM847.0 630.7h19.8v5.17h-19.8zM886.1 630.7h8.1v5.17h-8.1zM917.3 630.7h8.1v5.17h-8.1zM929.1 630.7h15.9v5.17h-15.9zM948.6 630.7h4.2v5.17h-4.2zM968.1 630.7h8.1v5.17h-8.1zM1058.0 630.7h4.2v5.17h-4.2zM1069.7 630.7h15.9v5.17h-15.9zM776.7 635.5h8.1v5.17h-8.1zM811.8 635.5h12.0v5.17h-12.0zM847.0 635.5h12.0v5.17h-12.0zM870.4 635.5h4.2v5.17h-4.2zM893.9 635.5h4.2v5.17h-4.2zM913.4 635.5h8.1v5.17h-8.1zM929.1 635.5h23.7v5.17h-23.7zM1018.9 635.5h4.2v5.17h-4.2zM1050.2 635.5h15.9v5.17h-15.9zM1069.7 635.5h8.1v5.17h-8.1zM1081.4 635.5h4.2v5.17h-4.2zM815.7 640.4h8.1v5.17h-8.1zM850.9 640.4h4.2v5.17h-4.2zM878.3 640.4h4.2v5.17h-4.2zM933.0 640.4h15.9v5.17h-15.9zM952.5 640.4h4.2v5.17h-4.2zM960.3 640.4h4.2v5.17h-4.2zM1022.8 640.4h12.0v5.17h-12.0zM1050.2 640.4h12.0v5.17h-12.0zM1081.4 640.4h4.2v5.17h-4.2zM839.2 645.3h8.1v5.17h-8.1zM878.3 645.3h4.2v5.17h-4.2zM925.1 645.3h12.0v5.17h-12.0zM944.7 645.3h12.0v5.17h-12.0zM1042.4 645.3h8.1v5.17h-8.1zM827.5 650.1h4.2v5.17h-4.2zM847.0 650.1h4.2v5.17h-4.2zM862.6 650.1h4.2v5.17h-4.2zM925.1 650.1h12.0v5.17h-12.0zM940.8 650.1h23.7v5.17h-23.7zM827.5 655.0h12.0v5.17h-12.0zM847.0 655.0h15.9v5.17h-15.9zM925.1 655.0h19.8v5.17h-19.8zM948.6 655.0h12.0v5.17h-12.0zM1046.3 655.0h4.2v5.17h-4.2zM827.5 659.9h19.8v5.17h-19.8zM858.7 659.9h8.1v5.17h-8.1zM874.3 659.9h4.2v5.17h-4.2zM909.5 659.9h23.7v5.17h-23.7zM936.9 659.9h8.1v5.17h-8.1zM952.5 659.9h4.2v5.17h-4.2zM870.4 664.7h4.2v5.17h-4.2zM878.3 664.7h8.1v5.17h-8.1zM893.9 664.7h19.8v5.17h-19.8zM925.1 664.7h4.2v5.17h-4.2zM933.0 664.7h4.2v5.17h-4.2zM1069.7 669.6h8.1v5.17h-8.1zM1069.7 674.5h12.0v5.17h-12.0zM968.1 703.7h4.2v5.17h-4.2z"/>
<path fill="#e3f0dd" d="M1042.4 460.3h15.9v5.17h-15.9zM1046.3 465.1h4.2v5.17h-4.2zM987.7 470.0h4.2v5.17h-4.2zM1046.3 470.0h8.1v5.17h-8.1zM1050.2 474.9h4.2v5.17h-4.2zM1058.0 474.9h4.2v5.17h-4.2zM1073.6 474.9h4.2v5.17h-4.2zM1050.2 479.7h8.1v5.17h-8.1zM1073.6 479.7h8.1v5.17h-8.1zM1120.5 489.5h4.2v5.17h-4.2zM1046.3 494.3h4.2v5.17h-4.2zM1042.4 499.2h8.1v5.17h-8.1zM972.0 504.1h4.2v5.17h-4.2zM929.1 508.9h4.2v5.17h-4.2zM940.8 508.9h4.2v5.17h-4.2zM972.0 508.9h4.2v5.17h-4.2zM948.6 513.8h4.2v5.17h-4.2zM999.4 513.8h4.2v5.17h-4.2zM995.5 518.7h8.1v5.17h-8.1zM1034.6 518.7h8.1v5.17h-8.1zM1015.0 528.4h4.2v5.17h-4.2zM999.4 533.3h4.2v5.17h-4.2zM1018.9 533.3h4.2v5.17h-4.2zM1026.7 533.3h12.0v5.17h-12.0zM952.5 538.2h8.1v5.17h-8.1zM972.0 538.2h4.2v5.17h-4.2zM983.8 538.2h4.2v5.17h-4.2zM991.6 538.2h19.8v5.17h-19.8zM1015.0 538.2h27.7v5.17h-27.7zM886.1 543.0h8.1v5.17h-8.1zM905.6 543.0h8.1v5.17h-8.1zM933.0 543.0h8.1v5.17h-8.1zM944.7 543.0h19.8v5.17h-19.8zM968.1 543.0h4.2v5.17h-4.2zM975.9 543.0h19.8v5.17h-19.8zM1022.8 543.0h8.1v5.17h-8.1zM1046.3 543.0h12.0v5.17h-12.0zM886.1 547.9h4.2v5.17h-4.2zM905.6 547.9h8.1v5.17h-8.1zM940.8 547.9h4.2v5.17h-4.2zM948.6 547.9h12.0v5.17h-12.0zM972.0 547.9h19.8v5.17h-19.8zM1003.3 547.9h4.2v5.17h-4.2zM1026.7 547.9h8.1v5.17h-8.1zM1042.4 547.9h12.0v5.17h-12.0zM1058.0 547.9h12.0v5.17h-12.0zM1073.6 547.9h4.2v5.17h-4.2zM886.1 552.8h4.2v5.17h-4.2zM909.5 552.8h8.1v5.17h-8.1zM948.6 552.8h8.1v5.17h-8.1zM975.9 552.8h19.8v5.17h-19.8zM1003.3 552.8h4.2v5.17h-4.2zM1026.7 552.8h12.0v5.17h-12.0zM1042.4 552.8h8.1v5.17h-8.1zM1054.1 552.8h12.0v5.17h-12.0zM1069.7 552.8h8.1v5.17h-8.1zM1097.1 552.8h4.2v5.17h-4.2zM862.6 557.6h4.2v5.17h-4.2zM886.1 557.6h4.2v5.17h-4.2zM948.6 557.6h12.0v5.17h-12.0zM975.9 557.6h4.2v5.17h-4.2zM987.7 557.6h8.1v5.17h-8.1zM1007.2 557.6h8.1v5.17h-8.1zM1022.8 557.6h15.9v5.17h-15.9zM1065.8 557.6h4.2v5.17h-4.2zM1073.6 557.6h4.2v5.17h-4.2zM1081.4 557.6h8.1v5.17h-8.1zM933.0 562.5h4.2v5.17h-4.2zM956.4 562.5h4.2v5.17h-4.2zM983.8 562.5h47.2v5.17h-47.2zM1065.8 562.5h27.7v5.17h-27.7zM1144.0 562.5h4.2v5.17h-4.2zM862.6 567.4h4.2v5.17h-4.2zM870.4 567.4h4.2v5.17h-4.2zM905.6 567.4h8.1v5.17h-8.1zM944.7 567.4h4.2v5.17h-4.2zM956.4 567.4h4.2v5.17h-4.2zM987.7 567.4h12.0v5.17h-12.0zM1003.3 567.4h27.7v5.17h-27.7zM1054.1 567.4h12.0v5.17h-12.0zM1069.7 567.4h8.1v5.17h-8.1zM1081.4 567.4h4.2v5.17h-4.2zM1089.3 567.4h4.2v5.17h-4.2zM1112.7 567.4h4.2v5.17h-4.2zM1140.1 567.4h8.1v5.17h-8.1zM882.2 572.2h12.0v5.17h-12.0zM901.7 572.2h12.0v5.17h-12.0zM983.8 572.2h4.2v5.17h-4.2zM991.6 572.2h31.6v5.17h-31.6zM1054.1 572.2h19.8v5.17h-19.8zM1085.4 572.2h4.2v5.17h-4.2zM1093.2 572.2h8.1v5.17h-8.1zM1112.7 572.2h4.2v5.17h-4.2zM1136.2 572.2h4.2v5.17h-4.2zM784.5 577.1h8.1v5.17h-8.1zM886.1 577.1h31.6v5.17h-31.6zM960.3 577.1h4.2v5.17h-4.2zM987.7 577.1h8.1v5.17h-8.1zM999.4 577.1h23.7v5.17h-23.7zM1026.7 577.1h4.2v5.17h-4.2zM1061.9 577.1h8.1v5.17h-8.1zM1089.3 577.1h12.0v5.17h-12.0zM1116.6 577.1h4.2v5.17h-4.2zM1132.2 577.1h8.1v5.17h-8.1zM827.5 582.0h12.0v5.17h-12.0zM847.0 582.0h4.2v5.17h-4.2zM983.8 582.0h27.7v5.17h-27.7zM1097.1 582.0h4.2v5.17h-4.2zM1120.5 582.0h4.2v5.17h-4.2zM1136.2 582.0h4.2v5.17h-4.2zM807.9 586.8h4.2v5.17h-4.2zM831.4 586.8h15.9v5.17h-15.9zM850.9 586.8h4.2v5.17h-4.2zM858.7 586.8h12.0v5.17h-12.0zM878.3 586.8h8.1v5.17h-8.1zM987.7 586.8h4.2v5.17h-4.2zM995.5 586.8h4.2v5.17h-4.2zM1003.3 586.8h4.2v5.17h-4.2zM1042.4 586.8h4.2v5.17h-4.2zM1120.5 586.8h12.0v5.17h-12.0zM1140.1 586.8h4.2v5.17h-4.2zM1155.7 586.8h4.2v5.17h-4.2zM823.6 591.7h4.2v5.17h-4.2zM831.4 591.7h4.2v5.17h-4.2zM843.1 591.7h12.0v5.17h-12.0zM858.7 591.7h8.1v5.17h-8.1zM882.2 591.7h4.2v5.17h-4.2zM893.9 591.7h4.2v5.17h-4.2zM991.6 591.7h8.1v5.17h-8.1zM1042.4 591.7h8.1v5.17h-8.1zM1128.3 591.7h8.1v5.17h-8.1zM1144.0 591.7h4.2v5.17h-4.2zM1151.8 591.7h8.1v5.17h-8.1zM835.3 596.6h15.9v5.17h-15.9zM858.7 596.6h8.1v5.17h-8.1zM886.1 596.6h4.2v5.17h-4.2zM893.9 596.6h4.2v5.17h-4.2zM917.3 596.6h4.2v5.17h-4.2zM991.6 596.6h8.1v5.17h-8.1zM1042.4 596.6h4.2v5.17h-4.2zM1120.5 596.6h4.2v5.17h-4.2zM1128.3 596.6h15.9v5.17h-15.9zM1151.8 596.6h4.2v5.17h-4.2zM753.2 601.4h4.2v5.17h-4.2zM804.0 601.4h15.9v5.17h-15.9zM835.3 601.4h8.1v5.17h-8.1zM847.0 601.4h19.8v5.17h-19.8zM870.4 601.4h4.2v5.17h-4.2zM991.6 601.4h4.2v5.17h-4.2zM1038.5 601.4h4.2v5.17h-4.2zM1128.3 601.4h27.7v5.17h-27.7zM753.2 606.3h4.2v5.17h-4.2zM780.6 606.3h4.2v5.17h-4.2zM815.7 606.3h4.2v5.17h-4.2zM843.1 606.3h4.2v5.17h-4.2zM862.6 606.3h4.2v5.17h-4.2zM987.7 606.3h4.2v5.17h-4.2zM1116.6 606.3h8.1v5.17h-8.1zM1132.2 606.3h12.0v5.17h-12.0zM776.7 611.2h8.1v5.17h-8.1zM847.0 611.2h8.1v5.17h-8.1zM878.3 611.2h4.2v5.17h-4.2zM901.7 611.2h4.2v5.17h-4.2zM1007.2 611.2h4.2v5.17h-4.2zM1101.0 611.2h4.2v5.17h-4.2zM1116.6 611.2h23.7v5.17h-23.7zM788.4 616.1h4.2v5.17h-4.2zM815.7 616.1h4.2v5.17h-4.2zM843.1 616.1h4.2v5.17h-4.2zM866.5 616.1h15.9v5.17h-15.9zM897.8 616.1h12.0v5.17h-12.0zM987.7 616.1h4.2v5.17h-4.2zM999.4 616.1h12.0v5.17h-12.0zM1089.3 616.1h15.9v5.17h-15.9zM1108.8 616.1h4.2v5.17h-4.2zM1120.5 616.1h19.8v5.17h-19.8zM784.5 620.9h8.1v5.17h-8.1zM800.1 620.9h4.2v5.17h-4.2zM819.6 620.9h4.2v5.17h-4.2zM866.5 620.9h15.9v5.17h-15.9zM995.5 620.9h4.2v5.17h-4.2zM1007.2 620.9h4.2v5.17h-4.2zM1089.3 620.9h12.0v5.17h-12.0zM1104.9 620.9h8.1v5.17h-8.1zM1120.5 620.9h23.7v5.17h-23.7zM753.2 625.8h4.2v5.17h-4.2zM788.4 625.8h4.2v5.17h-4.2zM870.4 625.8h4.2v5.17h-4.2zM972.0 625.8h4.2v5.17h-4.2zM979.9 625.8h15.9v5.17h-15.9zM1007.2 625.8h4.2v5.17h-4.2zM1054.1 625.8h15.9v5.17h-15.9zM1085.4 625.8h8.1v5.17h-8.1zM1097.1 625.8h15.9v5.17h-15.9zM1116.6 625.8h19.8v5.17h-19.8zM788.4 630.7h8.1v5.17h-8.1zM944.7 630.7h4.2v5.17h-4.2zM952.5 630.7h15.9v5.17h-15.9zM975.9 630.7h4.2v5.17h-4.2zM1011.1 630.7h12.0v5.17h-12.0zM1054.1 630.7h4.2v5.17h-4.2zM1061.9 630.7h8.1v5.17h-8.1zM1085.4 630.7h47.2v5.17h-47.2zM784.5 635.5h8.1v5.17h-8.1zM952.5 635.5h23.7v5.17h-23.7zM1015.0 635.5h4.2v5.17h-4.2zM1065.8 635.5h4.2v5.17h-4.2zM1085.4 635.5h15.9v5.17h-15.9zM1108.8 635.5h19.8v5.17h-19.8zM780.6 640.4h8.1v5.17h-8.1zM811.8 640.4h4.2v5.17h-4.2zM948.6 640.4h4.2v5.17h-4.2zM956.4 640.4h4.2v5.17h-4.2zM964.2 640.4h8.1v5.17h-8.1zM975.9 640.4h4.2v5.17h-4.2zM1018.9 640.4h4.2v5.17h-4.2zM1061.9 640.4h19.8v5.17h-19.8zM1101.0 640.4h23.7v5.17h-23.7zM815.7 645.3h8.1v5.17h-8.1zM827.5 645.3h4.2v5.17h-4.2zM956.4 645.3h19.8v5.17h-19.8zM1022.8 645.3h8.1v5.17h-8.1zM1038.5 645.3h4.2v5.17h-4.2zM1050.2 645.3h15.9v5.17h-15.9zM1073.6 645.3h8.1v5.17h-8.1zM1104.9 645.3h8.1v5.17h-8.1zM811.8 650.1h12.0v5.17h-12.0zM964.2 650.1h12.0v5.17h-12.0zM1034.6 650.1h4.2v5.17h-4.2zM1042.4 650.1h12.0v5.17h-12.0zM1069.7 650.1h4.2v5.17h-4.2zM1104.9 650.1h12.0v5.17h-12.0zM960.3 655.0h15.9v5.17h-15.9zM1042.4 655.0h4.2v5.17h-4.2zM1050.2 655.0h4.2v5.17h-4.2zM1065.8 655.0h4.2v5.17h-4.2zM1104.9 655.0h12.0v5.17h-12.0zM847.0 659.9h12.0v5.17h-12.0zM933.0 659.9h4.2v5.17h-4.2zM944.7 659.9h8.1v5.17h-8.1zM956.4 659.9h4.2v5.17h-4.2zM964.2 659.9h12.0v5.17h-12.0zM1038.5 659.9h15.9v5.17h-15.9zM1061.9 659.9h4.2v5.17h-4.2zM1104.9 659.9h12.0v5.17h-12.0zM835.3 664.7h27.7v5.17h-27.7zM866.5 664.7h4.2v5.17h-4.2zM874.3 664.7h4.2v5.17h-4.2zM913.4 664.7h12.0v5.17h-12.0zM929.1 664.7h4.2v5.17h-4.2zM948.6 664.7h4.2v5.17h-4.2zM956.4 664.7h8.1v5.17h-8.1zM1046.3 664.7h4.2v5.17h-4.2zM1065.8 664.7h15.9v5.17h-15.9zM1104.9 664.7h15.9v5.17h-15.9zM839.2 669.6h12.0v5.17h-12.0zM866.5 669.6h4.2v5.17h-4.2zM874.3 669.6h4.2v5.17h-4.2zM886.1 669.6h19.8v5.17h-19.8zM933.0 669.6h4.2v5.17h-4.2zM1077.5 669.6h4.2v5.17h-4.2zM1108.8 669.6h4.2v5.17h-4.2zM882.2 674.5h4.2v5.17h-4.2zM890.0 674.5h4.2v5.17h-4.2zM897.8 674.5h4.2v5.17h-4.2zM964.2 674.5h4.2v5.17h-4.2zM1065.8 674.5h4.2v5.17h-4.2zM1097.1 674.5h12.0v5.17h-12.0zM878.3 679.3h4.2v5.17h-4.2zM886.1 679.3h4.2v5.17h-4.2zM960.3 679.3h8.1v5.17h-8.1zM1054.1 679.3h4.2v5.17h-4.2zM1069.7 679.3h12.0v5.17h-12.0zM1097.1 679.3h8.1v5.17h-8.1zM878.3 684.2h4.2v5.17h-4.2zM964.2 684.2h4.2v5.17h-4.2zM1069.7 684.2h4.2v5.17h-4.2zM1077.5 684.2h8.1v5.17h-8.1zM1077.5 689.1h8.1v5.17h-8.1zM964.2 694.0h4.2v5.17h-4.2zM960.3 698.8h12.0v5.17h-12.0zM983.8 698.8h8.1v5.17h-8.1zM960.3 703.7h8.1v5.17h-8.1zM972.0 703.7h8.1v5.17h-8.1z"/>
<path fill="#b5d9b5" d="M1011.1 528.4h4.2v5.17h-4.2zM1003.3 533.3h15.9v5.17h-15.9zM1011.1 538.2h4.2v5.17h-4.2zM940.8 543.0h4.2v5.17h-4.2zM995.5 543.0h19.8v5.17h-19.8zM1018.9 543.0h4.2v5.17h-4.2zM933.0 547.9h8.1v5.17h-8.1zM944.7 547.9h4.2v5.17h-4.2zM991.6 547.9h4.2v5.17h-4.2zM999.4 547.9h4.2v5.17h-4.2zM1007.2 547.9h19.8v5.17h-19.8zM897.8 552.8h4.2v5.17h-4.2zM933.0 552.8h15.9v5.17h-15.9zM995.5 552.8h8.1v5.17h-8.1zM1007.2 552.8h19.8v5.17h-19.8zM878.3 557.6h4.2v5.17h-4.2zM893.9 557.6h4.2v5.17h-4.2zM933.0 557.6h4.2v5.17h-4.2zM940.8 557.6h8.1v5.17h-8.1zM983.8 557.6h4.2v5.17h-4.2zM995.5 557.6h12.0v5.17h-12.0zM1018.9 557.6h4.2v5.17h-4.2zM1069.7 557.6h4.2v5.17h-4.2zM1077.5 557.6h4.2v5.17h-4.2zM850.9 562.5h4.2v5.17h-4.2zM886.1 562.5h4.2v5.17h-4.2zM901.7 562.5h4.2v5.17h-4.2zM936.9 562.5h12.0v5.17h-12.0zM854.8 567.4h4.2v5.17h-4.2zM866.5 567.4h4.2v5.17h-4.2zM882.2 567.4h8.1v5.17h-8.1zM893.9 567.4h12.0v5.17h-12.0zM952.5 567.4h4.2v5.17h-4.2zM1065.8 567.4h4.2v5.17h-4.2zM1085.4 567.4h4.2v5.17h-4.2zM850.9 572.2h8.1v5.17h-8.1zM862.6 572.2h4.2v5.17h-4.2zM870.4 572.2h12.0v5.17h-12.0zM893.9 572.2h8.1v5.17h-8.1zM952.5 572.2h12.0v5.17h-12.0zM987.7 572.2h4.2v5.17h-4.2zM1089.3 572.2h4.2v5.17h-4.2zM850.9 577.1h4.2v5.17h-4.2zM878.3 577.1h8.1v5.17h-8.1zM850.9 582.0h4.2v5.17h-4.2zM862.6 582.0h4.2v5.17h-4.2zM878.3 582.0h8.1v5.17h-8.1zM890.0 582.0h8.1v5.17h-8.1zM893.9 586.8h4.2v5.17h-4.2zM1144.0 606.3h8.1v5.17h-8.1zM1140.1 611.2h8.1v5.17h-8.1zM1112.7 616.1h8.1v5.17h-8.1zM1140.1 616.1h4.2v5.17h-4.2zM999.4 620.9h8.1v5.17h-8.1zM1101.0 620.9h4.2v5.17h-4.2zM1112.7 620.9h8.1v5.17h-8.1zM995.5 625.8h4.2v5.17h-4.2zM1093.2 625.8h4.2v5.17h-4.2zM1112.7 625.8h4.2v5.17h-4.2zM979.9 630.7h4.2v5.17h-4.2zM991.6 630.7h4.2v5.17h-4.2zM1007.2 630.7h4.2v5.17h-4.2zM975.9 635.5h12.0v5.17h-12.0zM1011.1 635.5h4.2v5.17h-4.2zM1101.0 635.5h8.1v5.17h-8.1zM972.0 640.4h4.2v5.17h-4.2zM979.9 640.4h8.1v5.17h-8.1zM1015.0 640.4h4.2v5.17h-4.2zM1085.4 640.4h8.1v5.17h-8.1zM1097.1 640.4h4.2v5.17h-4.2zM975.9 645.3h15.9v5.17h-15.9zM1030.6 645.3h8.1v5.17h-8.1zM1065.8 645.3h8.1v5.17h-8.1zM1081.4 645.3h8.1v5.17h-8.1zM1101.0 645.3h4.2v5.17h-4.2zM1112.7 645.3h8.1v5.17h-8.1zM975.9 650.1h15.9v5.17h-15.9zM1026.7 650.1h8.1v5.17h-8.1zM1038.5 650.1h4.2v5.17h-4.2zM1054.1 650.1h15.9v5.17h-15.9zM1073.6 650.1h4.2v5.17h-4.2zM1097.1 650.1h8.1v5.17h-8.1zM1116.6 650.1h4.2v5.17h-4.2zM975.9 655.0h4.2v5.17h-4.2zM983.8 655.0h8.1v5.17h-8.1zM1026.7 655.0h15.9v5.17h-15.9zM1054.1 655.0h12.0v5.17h-12.0zM1069.7 655.0h4.2v5.17h-4.2zM1093.2 655.0h4.2v5.17h-4.2zM1101.0 655.0h4.2v5.17h-4.2zM960.3 659.9h4.2v5.17h-4.2zM975.9 659.9h4.2v5.17h-4.2zM1030.6 659.9h8.1v5.17h-8.1zM1054.1 659.9h8.1v5.17h-8.1zM1065.8 659.9h15.9v5.17h-15.9zM1097.1 659.9h8.1v5.17h-8.1zM936.9 664.7h12.0v5.17h-12.0zM952.5 664.7h4.2v5.17h-4.2zM964.2 664.7h12.0v5.17h-12.0zM1038.5 664.7h8.1v5.17h-8.1zM1050.2 664.7h15.9v5.17h-15.9zM1081.4 664.7h8.1v5.17h-8.1zM1097.1 664.7h8.1v5.17h-8.1zM850.9 669.6h4.2v5.17h-4.2zM858.7 669.6h8.1v5.17h-8.1zM870.4 669.6h4.2v5.17h-4.2zM878.3 669.6h8.1v5.17h-8.1zM905.6 669.6h27.7v5.17h-27.7zM936.9 669.6h4.2v5.17h-4.2zM944.7 669.6h4.2v5.17h-4.2zM952.5 669.6h19.8v5.17h-19.8zM1042.4 669.6h15.9v5.17h-15.9zM1061.9 669.6h8.1v5.17h-8.1zM1081.4 669.6h4.2v5.17h-4.2zM1097.1 669.6h12.0v5.17h-12.0zM1112.7 669.6h8.1v5.17h-8.1zM854.8 674.5h27.7v5.17h-27.7zM886.1 674.5h4.2v5.17h-4.2zM893.9 674.5h4.2v5.17h-4.2zM901.7 674.5h47.2v5.17h-47.2zM952.5 674.5h12.0v5.17h-12.0zM968.1 674.5h8.1v5.17h-8.1zM1042.4 674.5h23.7v5.17h-23.7zM1081.4 674.5h4.2v5.17h-4.2zM1093.2 674.5h4.2v5.17h-4.2zM1108.8 674.5h8.1v5.17h-8.1zM862.6 679.3h15.9v5.17h-15.9zM882.2 679.3h4.2v5.17h-4.2zM890.0 679.3h4.2v5.17h-4.2zM897.8 679.3h8.1v5.17h-8.1zM921.2 679.3h4.2v5.17h-4.2zM936.9 679.3h12.0v5.17h-12.0zM956.4 679.3h4.2v5.17h-4.2zM968.1 679.3h8.1v5.17h-8.1zM1018.9 679.3h4.2v5.17h-4.2zM1042.4 679.3h4.2v5.17h-4.2zM1050.2 679.3h4.2v5.17h-4.2zM1058.0 679.3h4.2v5.17h-4.2zM1065.8 679.3h4.2v5.17h-4.2zM1081.4 679.3h8.1v5.17h-8.1zM1093.2 679.3h4.2v5.17h-4.2zM1104.9 679.3h12.0v5.17h-12.0zM882.2 684.2h8.1v5.17h-8.1zM893.9 684.2h4.2v5.17h-4.2zM933.0 684.2h4.2v5.17h-4.2zM940.8 684.2h4.2v5.17h-4.2zM956.4 684.2h8.1v5.17h-8.1zM968.1 684.2h8.1v5.17h-8.1zM1054.1 684.2h15.9v5.17h-15.9zM1073.6 684.2h4.2v5.17h-4.2zM1085.4 684.2h12.0v5.17h-12.0zM1101.0 684.2h12.0v5.17h-12.0zM956.4 689.1h8.1v5.17h-8.1zM968.1 689.1h8.1v5.17h-8.1zM979.9 689.1h8.1v5.17h-8.1zM991.6 689.1h4.2v5.17h-4.2zM1054.1 689.1h12.0v5.17h-12.0zM1069.7 689.1h8.1v5.17h-8.1zM1085.4 689.1h8.1v5.17h-8.1zM1097.1 689.1h4.2v5.17h-4.2zM956.4 694.0h8.1v5.17h-8.1zM968.1 694.0h8.1v5.17h-8.1zM979.9 694.0h15.9v5.17h-15.9zM1054.1 694.0h4.2v5.17h-4.2zM1073.6 694.0h19.8v5.17h-19.8zM956.4 698.8h4.2v5.17h-4.2zM972.0 698.8h8.1v5.17h-8.1zM1077.5 698.8h12.0v5.17h-12.0zM956.4 703.7h4.2v5.17h-4.2zM979.9 703.7h8.1v5.17h-8.1z"/>
<path fill="#89b88b" d="M1015.0 543.0h4.2v5.17h-4.2zM995.5 547.9h4.2v5.17h-4.2zM897.8 557.6h4.2v5.17h-4.2zM936.9 557.6h4.2v5.17h-4.2zM890.0 562.5h4.2v5.17h-4.2zM866.5 572.2h4.2v5.17h-4.2zM854.8 577.1h4.2v5.17h-4.2zM862.6 577.1h12.0v5.17h-12.0zM854.8 582.0h4.2v5.17h-4.2zM866.5 582.0h8.1v5.17h-8.1zM999.4 625.8h8.1v5.17h-8.1zM983.8 630.7h8.1v5.17h-8.1zM995.5 630.7h4.2v5.17h-4.2zM1003.3 630.7h4.2v5.17h-4.2zM987.7 635.5h23.7v5.17h-23.7zM987.7 640.4h27.7v5.17h-27.7zM1093.2 640.4h4.2v5.17h-4.2zM999.4 645.3h4.2v5.17h-4.2zM1011.1 645.3h12.0v5.17h-12.0zM1089.3 645.3h12.0v5.17h-12.0zM1022.8 650.1h4.2v5.17h-4.2zM1077.5 650.1h19.8v5.17h-19.8zM979.9 655.0h4.2v5.17h-4.2zM1022.8 655.0h4.2v5.17h-4.2zM1073.6 655.0h4.2v5.17h-4.2zM1081.4 655.0h12.0v5.17h-12.0zM1097.1 655.0h4.2v5.17h-4.2zM979.9 659.9h19.8v5.17h-19.8zM1022.8 659.9h8.1v5.17h-8.1zM1081.4 659.9h15.9v5.17h-15.9zM975.9 664.7h4.2v5.17h-4.2zM987.7 664.7h15.9v5.17h-15.9zM1026.7 664.7h4.2v5.17h-4.2zM1034.6 664.7h4.2v5.17h-4.2zM1089.3 664.7h8.1v5.17h-8.1zM854.8 669.6h4.2v5.17h-4.2zM940.8 669.6h4.2v5.17h-4.2zM972.0 669.6h4.2v5.17h-4.2zM991.6 669.6h12.0v5.17h-12.0zM1015.0 669.6h8.1v5.17h-8.1zM1038.5 669.6h4.2v5.17h-4.2zM1058.0 669.6h4.2v5.17h-4.2zM1085.4 669.6h12.0v5.17h-12.0zM975.9 674.5h8.1v5.17h-8.1zM991.6 674.5h12.0v5.17h-12.0zM1011.1 674.5h15.9v5.17h-15.9zM1034.6 674.5h8.1v5.17h-8.1zM1085.4 674.5h8.1v5.17h-8.1zM893.9 679.3h4.2v5.17h-4.2zM905.6 679.3h4.2v5.17h-4.2zM913.4 679.3h8.1v5.17h-8.1zM925.1 679.3h12.0v5.17h-12.0zM948.6 679.3h8.1v5.17h-8.1zM975.9 679.3h27.7v5.17h-27.7zM1015.0 679.3h4.2v5.17h-4.2zM1026.7 679.3h4.2v5.17h-4.2zM1038.5 679.3h4.2v5.17h-4.2zM1061.9 679.3h4.2v5.17h-4.2zM1089.3 679.3h4.2v5.17h-4.2zM862.6 684.2h12.0v5.17h-12.0zM890.0 684.2h4.2v5.17h-4.2zM897.8 684.2h8.1v5.17h-8.1zM917.3 684.2h4.2v5.17h-4.2zM948.6 684.2h8.1v5.17h-8.1zM975.9 684.2h35.5v5.17h-35.5zM1026.7 684.2h8.1v5.17h-8.1zM1038.5 684.2h8.1v5.17h-8.1zM952.5 689.1h4.2v5.17h-4.2zM964.2 689.1h4.2v5.17h-4.2zM975.9 689.1h4.2v5.17h-4.2zM987.7 689.1h4.2v5.17h-4.2zM995.5 689.1h12.0v5.17h-12.0zM1034.6 689.1h8.1v5.17h-8.1zM1101.0 689.1h4.2v5.17h-4.2zM913.4 694.0h4.2v5.17h-4.2zM952.5 694.0h4.2v5.17h-4.2zM975.9 694.0h4.2v5.17h-4.2zM995.5 694.0h4.2v5.17h-4.2zM1058.0 694.0h4.2v5.17h-4.2zM1093.2 694.0h4.2v5.17h-4.2zM979.9 698.8h4.2v5.17h-4.2z"/>
<path fill="#5b9a62" d="M999.4 630.7h4.2v5.17h-4.2zM991.6 645.3h8.1v5.17h-8.1zM1003.3 645.3h8.1v5.17h-8.1zM991.6 650.1h31.6v5.17h-31.6zM991.6 655.0h15.9v5.17h-15.9zM1015.0 655.0h8.1v5.17h-8.1zM1077.5 655.0h4.2v5.17h-4.2zM999.4 659.9h23.7v5.17h-23.7zM979.9 664.7h8.1v5.17h-8.1zM1003.3 664.7h19.8v5.17h-19.8zM1030.6 664.7h4.2v5.17h-4.2zM975.9 669.6h15.9v5.17h-15.9zM1003.3 669.6h12.0v5.17h-12.0zM1022.8 669.6h15.9v5.17h-15.9zM987.7 674.5h4.2v5.17h-4.2zM1003.3 674.5h8.1v5.17h-8.1zM1026.7 674.5h8.1v5.17h-8.1zM1003.3 679.3h12.0v5.17h-12.0zM1022.8 679.3h4.2v5.17h-4.2zM1030.6 679.3h8.1v5.17h-8.1zM905.6 684.2h4.2v5.17h-4.2zM913.4 684.2h4.2v5.17h-4.2zM1034.6 684.2h4.2v5.17h-4.2zM909.5 689.1h8.1v5.17h-8.1zM905.6 694.0h8.1v5.17h-8.1z"/>
<path fill="#2c7038" d="M1007.2 655.0h8.1v5.17h-8.1zM983.8 674.5h4.2v5.17h-4.2zM905.6 689.1h4.2v5.17h-4.2z"/>

</g>
<g clip-path="url(#kc)" shape-rendering="crispEdges">
<path fill="#dcaed5" d="M714.1 499.2h12.0v5.17h-12.0zM714.1 504.1h15.9v5.17h-15.9zM714.1 508.9h12.0v5.17h-12.0zM725.9 513.8h4.2v5.17h-4.2zM784.5 518.7h4.2v5.17h-4.2zM788.4 523.5h4.2v5.17h-4.2zM772.8 528.4h4.2v5.17h-4.2zM780.6 528.4h4.2v5.17h-4.2z"/>
<path fill="#eed5ea" d="M706.3 499.2h4.2v5.17h-4.2zM733.7 504.1h4.2v5.17h-4.2zM729.8 508.9h8.1v5.17h-8.1zM745.4 508.9h8.1v5.17h-8.1zM714.1 513.8h12.0v5.17h-12.0zM729.8 513.8h8.1v5.17h-8.1zM749.3 513.8h12.0v5.17h-12.0zM764.9 513.8h4.2v5.17h-4.2zM800.1 513.8h4.2v5.17h-4.2zM749.3 518.7h8.1v5.17h-8.1zM764.9 518.7h4.2v5.17h-4.2zM772.8 518.7h12.0v5.17h-12.0zM788.4 518.7h4.2v5.17h-4.2zM764.9 523.5h23.7v5.17h-23.7zM792.3 523.5h8.1v5.17h-8.1zM768.8 528.4h4.2v5.17h-4.2zM776.7 528.4h4.2v5.17h-4.2z"/>
<path fill="#e3f0dd" d="M698.5 494.3h4.2v5.17h-4.2zM710.2 494.3h4.2v5.17h-4.2zM698.5 499.2h8.1v5.17h-8.1zM710.2 499.2h4.2v5.17h-4.2zM702.4 504.1h12.0v5.17h-12.0zM710.2 508.9h4.2v5.17h-4.2zM737.6 513.8h4.2v5.17h-4.2zM745.4 513.8h4.2v5.17h-4.2zM757.1 518.7h4.2v5.17h-4.2zM753.2 523.5h4.2v5.17h-4.2z"/>
<path fill="#b5d9b5" d="M706.3 508.9h4.2v5.17h-4.2z"/>

</g>
<g fill="none" stroke="#000" stroke-width="1.7" stroke-linejoin="round" stroke-linecap="round">
<path d="M689.3 484.7 695.0 486.8 698.0 489.9 699.3 494.2 706.2 494.7 707.1 497.3 712.3 496.8 714.0 501.6 719.2 501.6 726.2 503.8 731.4 505.5 734.9 508.5 741.8 509.8 748.7 511.1 755.7 512.9 760.9 515.5 766.1 517.6 773.0 518.9 779.1 520.7 783.2 519.4 789.3 520.3 796.2 520.1 802.3 518.6 806.6 515.1 812.7 511.2 818.8 509.5 824.0 506.9 827.4 504.3 829.6 508.6 837.9 504.3 837.4 498.5 846.5 494.3 852.6 490.4 860.4 486.9 863.9 485.2 871.3 491.3 875.7 489.2 884.5 486.1 894.6 481.6 899.7 476.6 908.5 473.4 916.1 476.0 922.4 474.1 933.7 473.4 946.4 469.7 956.5 466.5 969.1 464.4 973.5 469.7 981.7 466.5 991.8 464.6 999.4 466.5 1005.7 462.7 1013.2 457.0 1020.7 455.1 1029.6 454.5 1040.9 457.0 1051.0 460.8 1061.1 465.2 1071.2 470.9 1076.3 473.4 1080.0 474.7 1085.1 480.4 1090.1 484.2 1099.0 487.3 1106.5 487.7 1114.1 487.3 1119.2 490.5 1124.2 496.2 1129.9 501.5 1124.2 506.2 1121.1 508.8 1123.6 514.4 1123.0 520.8 1126.7 523.9 1128.6 526.3 1131.2 533.9 1135.6 541.5 1141.2 549.0 1144.4 556.0 1150.7 557.9 1160.2 561.0 1158.3 567.9 1155.8 576.8 1158.3 583.1 1156.4 591.9 1154.5 598.2 1152.0 606.3 1144.4 613.9 1140.6 621.5 1131.8 629.0 1124.2 637.9 1119.2 646.7 1116.6 654.3 1116.0 661.8 1117.9 668.1 1116.6 674.4 1113.5 682.0 1106.5 688.3 1099.0 693.4 1092.7 697.2 1088.9 700.0 1081.3 699.7 1076.3 697.2 1077.5 694.0 1071.2 694.0 1070.0 688.3 1066.8 687.1 1064.9 692.1 1061.1 693.4 1057.3 695.3 1056.1 688.3 1054.0 684.0 1050.8 680.2 1046.4 676.4 1043.2 681.5 1042.6 687.8 1038.8 691.5 1035.7 689.7 1029.4 686.5 1024.3 682.7 1016.7 681.5 1011.7 684.0 1006.6 689.7 999.1 693.4 991.5 696.6 987.7 702.9 985.2 707.3 976.4 708.6 967.5 707.7 960.6 708.6 958.7 702.9 958.7 696.6 953.0 695.3 952.4 689.0 948.6 684.0 944.8 683.3 944.2 686.5 937.2 685.9 930.9 684.0 924.6 682.1 919.6 684.6 914.5 690.3 914.5 697.9 911.4 701.0 908.2 695.3 910.7 689.0 907.0 684.6 901.9 685.9 897.8 687.7 894.0 687.3 890.2 686.8 887.4 689.1 882.7 689.1 877.0 684.9 873.2 685.4 870.4 686.8 865.6 686.8 863.7 683.9 860.0 679.2 856.2 675.4 852.4 671.2 848.6 672.6 844.8 673.5 841.0 670.7 837.2 667.9 835.3 661.7 831.6 660.8 827.3 663.6 824.0 659.3 821.2 655.6 814.5 652.7 809.8 648.9 805.5 646.1 805.1 641.8 802.8 640.8 795.2 639.5 792.0 640.8 788.2 647.1 785.1 642.0 780.0 638.9 772.5 635.7 768.7 631.9 764.9 628.1 759.9 628.8 756.1 626.9 752.3 621.2 751.7 615.5 749.8 609.2 746.6 604.2 746.6 597.9 751.0 596.0 752.3 600.4 756.7 601.0 759.2 595.3 758.6 589.0 754.8 582.7 750.4 576.4 751.0 568.8 756.0 563.1 753.5 561.5 748.4 559.0 743.4 555.9 740.8 548.9 739.6 543.9 742.1 541.1 733.1 541.1 726.2 539.3 719.2 536.7 716.6 533.3 711.4 533.3 708.0 528.9 708.8 524.6 707.1 519.4 703.6 516.8 700.2 516.3 698.4 513.3 694.1 511.6 688.9 510.3 684.5 509.4 685.0 507.2 690.6 506.4 694.1 504.6 694.5 502.0 691.5 498.6 691.9 493.4 689.7 489.9Z"/>
<path d="M695.8 488.1 696.3 491.6 698.9 496.0 701.9 502.0 706.2 508.1 712.3 512.4 719.2 515.5 727.0 518.1 731.4 517.2 736.6 514.6 741.8 514.6 747.0 517.6 753.1 522.0 759.1 526.3 766.1 528.1 773.0 529.4 780.6 529.9 789.3 527.7 796.2 525.5 801.4 524.2 806.6 525.5 815.3 525.1 824.0 524.2 830.9 522.5 836.1 519.9 839.6 515.1 843.1 512.9 850.0 512.1 858.7 511.6 865.6 509.9 870.8 506.4 878.2 501.8 890.8 495.5 903.5 491.1 914.8 489.2 922.4 484.2 932.5 478.5 943.8 474.1 953.9 470.9 964.0 467.8 969.1 464.4M802.3 519.0 809.2 519.4 817.0 518.1 824.0 516.0 830.9 512.5 837.0 509.0 845.7 505.6 856.1 502.1 863.0 498.2 866.1 494.7 871.3 491.3M914.8 489.2 918.6 495.5 928.7 501.8 938.2 507.5 941.3 515.7 943.2 522.0 942.6 528.3 938.8 531.5 928.7 533.4 918.6 533.1 909.8 529.6 900.9 529.0 890.8 530.2 882.0 532.1 873.2 539.7 867.0 545.1 855.7 554.0 841.8 561.5 826.6 569.7 814.0 574.8 802.7 577.9M756.0 563.1 759.8 564.1 766.1 567.9 772.4 564.7 782.5 563.8 788.8 567.9 795.1 572.3 800.1 575.4 802.7 577.9M802.7 577.9 796.4 581.7 790.0 586.8 785.6 593.1 785.6 600.7 786.9 609.5 788.2 617.1 790.0 624.0 796.4 627.2 804.0 630.0 811.2 632.8 807.8 637.6 805.3 640.8M811.2 632.8 818.3 632.4 823.0 635.7 827.8 638.5 833.5 643.2 839.1 648.0 844.8 651.3 850.5 652.7 856.2 652.7 860.9 649.9 864.7 648.0 871.3 648.5 878.9 648.0 883.6 645.1 888.3 642.3 894.0 641.8 900.6 644.2 907.3 644.7 915.6 644.2 921.2 644.8 928.2 646.7 932.6 642.9 937.6 637.9 943.9 634.7 949.6 629.7M949.6 629.7 950.9 622.7 950.9 613.9 948.3 606.3 949.0 600.0 951.5 594.4 954.0 585.6 957.8 578.0 964.1 571.7 971.7 568.0 981.8 563.5 989.4 557.9 995.0 553.4 994.4 549.0 998.2 545.9 1007.0 544.6 1015.6 546.5 1027.1 545.9 1038.4 545.2 1049.8 546.5 1059.9 548.4 1066.2 548.4 1073.7 545.2 1083.8 545.9 1091.4 544.6 1096.5 542.1 1099.5 537.7 1101.5 535.2M943.2 522.0 951.4 524.5 960.2 526.1 972.9 524.3 985.5 523.9 991.8 524.8 993.0 527.1 996.8 528.3 1001.9 526.4 1012.0 525.8 1017.0 524.8 1019.5 528.3 1023.3 533.4 1025.2 529.0 1032.1 530.2 1038.4 535.3M991.8 464.6 991.8 468.4 995.6 470.9 1004.4 472.8 1010.7 477.9 1006.9 482.3 1000.6 484.8 1001.2 490.5 1005.7 495.5 1013.2 498.0 1022.0 499.9 1030.8 501.2 1039.7 501.8 1046.0 502.5 1048.5 505.6 1052.3 510.7 1056.1 515.1 1054.2 519.5 1049.8 524.5 1044.7 530.9 1038.4 535.3M1038.4 535.3 1047.2 533.4 1056.1 528.3 1059.9 522.0 1064.9 519.5 1073.7 520.1 1082.6 522.0 1088.9 522.6 1091.4 520.8 1092.7 514.4 1095.8 510.7 1095.2 506.9 1101.5 504.4 1110.3 503.1 1116.6 505.6 1121.1 508.8M1091.4 520.8 1095.2 527.1 1099.0 533.4 1101.5 535.2 1102.8 535.8 1106.5 539.6 1115.4 537.0 1126.7 535.8 1131.2 536.4M1115.4 537.0 1114.7 544.0 1116.0 552.8 1117.3 561.6 1121.7 567.9 1125.5 573.0 1127.4 579.3 1129.9 588.1 1136.8 590.7 1141.9 592.6 1148.2 590.7 1156.4 591.9M1117.3 561.6 1119.2 563.5 1131.8 562.9 1144.4 562.6 1160.2 561.4M1066.2 548.4 1067.4 552.8 1064.9 556.6 1059.9 559.1 1056.1 564.2 1053.5 567.3 1043.5 569.8 1033.4 572.4 1025.8 575.5 1020.7 580.6 1013.2 585.6 1007.0 588.8 998.2 594.4 989.4 598.2 983.0 601.4 976.7 603.9 971.7 609.0 969.8 618.9 970.1 627.1M949.6 629.7 955.3 631.5 962.9 630.3 970.1 627.1M1129.9 588.1 1124.2 594.4 1117.9 600.8 1112.9 603.3 1105.3 600.8 1099.0 603.9 1092.7 605.8 1086.4 608.3 1081.3 607.1 1080.0 610.9 1073.7 610.2 1066.2 607.1 1058.6 602.0 1051.0 598.2 1042.2 595.1 1034.6 595.1 1027.1 598.2 1023.3 603.3 1022.0 608.3 1019.5 614.0 1013.2 613.9 1007.0 612.6 1000.7 616.4 994.4 621.5 990.6 627.1 983.0 630.3 974.2 629.7 970.1 627.1M970.1 627.1 967.9 637.9 964.1 645.4 963.5 650.5 967.9 655.5 971.1 663.1 971.7 671.9 970.0 678.2 963.7 683.3 956.2 686.5 949.9 685.9M971.7 671.9 981.8 673.2 988.1 670.0 994.4 663.1 1000.7 656.8 1007.0 653.6 1013.2 653.6 1022.0 656.2 1028.3 659.9 1034.0 663.7 1037.8 659.3 1041.5 663.1 1044.7 669.4 1048.5 675.7 1052.9 680.8M1086.4 608.3 1091.4 615.1 1096.5 622.7 1101.5 631.5 1106.5 640.4 1111.6 644.8 1109.7 653.0 1108.4 661.8 1109.7 666.9 1116.6 672.6M1109.7 666.9 1105.3 673.2 1099.0 678.2 1091.4 684.5 1083.8 688.3 1077.5 693.4 1076.3 697.2"/>
</g>
<g stroke="#2a2627" fill="none">
<rect x="677.3" y="433.4" width="500.5" height="292.3" stroke-width="1.2"/>
<path d="M692.8 433.4v-5.4M692.8 725.7v5.6M771.0 433.4v-5.4M771.0 725.7v5.6M849.1 433.4v-5.4M849.1 725.7v5.6M927.2 433.4v-5.4M927.2 725.7v5.6M1005.4 433.4v-5.4M1005.4 725.7v5.6M1083.6 433.4v-5.4M1083.6 725.7v5.6M1161.7 433.4v-5.4M1161.7 725.7v5.6M677.3 725.8h-5.8M1177.8 725.8h5.2M677.3 686.8h-5.8M1177.8 686.8h5.2M677.3 647.9h-5.8M1177.8 647.9h5.2M677.3 608.9h-5.8M1177.8 608.9h5.2M677.3 570.0h-5.8M1177.8 570.0h5.2M677.3 531.0h-5.8M1177.8 531.0h5.2M677.3 492.1h-5.8M1177.8 492.1h5.2M677.3 453.1h-5.8M1177.8 453.1h5.2" stroke-width="1.1"/>
</g>
<text transform="translate(676.30 419.80) scale(1.025 1)" font-size="22.20" text-anchor="start">75°E</text>
<text transform="translate(676.30 755.20) scale(1.025 1)" font-size="22.20" text-anchor="start">75°E</text>
<text transform="translate(754.45 419.80) scale(1.025 1)" font-size="22.20" text-anchor="start">80°E</text>
<text transform="translate(754.45 755.20) scale(1.025 1)" font-size="22.20" text-anchor="start">80°E</text>
<text transform="translate(832.60 419.80) scale(1.025 1)" font-size="22.20" text-anchor="start">85°E</text>
<text transform="translate(832.60 755.20) scale(1.025 1)" font-size="22.20" text-anchor="start">85°E</text>
<text transform="translate(910.75 419.80) scale(1.025 1)" font-size="22.20" text-anchor="start">90°E</text>
<text transform="translate(910.75 755.20) scale(1.025 1)" font-size="22.20" text-anchor="start">90°E</text>
<text transform="translate(988.90 419.80) scale(1.025 1)" font-size="22.20" text-anchor="start">95°E</text>
<text transform="translate(988.90 755.20) scale(1.025 1)" font-size="22.20" text-anchor="start">95°E</text>
<text transform="translate(1055.55 419.80) scale(1.025 1)" font-size="22.20" text-anchor="start">100°E</text>
<text transform="translate(1055.55 755.20) scale(1.025 1)" font-size="22.20" text-anchor="start">100°E</text>
<text transform="translate(1133.70 419.80) scale(1.025 1)" font-size="22.20" text-anchor="start">105°E</text>
<text transform="translate(1133.70 755.20) scale(1.025 1)" font-size="22.20" text-anchor="start">105°E</text>
<text transform="translate(1193.60 732.35) scale(0.985 1)" font-size="22.20" text-anchor="start">26°N</text>
<text transform="translate(1193.60 693.40) scale(0.985 1)" font-size="22.20" text-anchor="start">28°N</text>
<text transform="translate(1193.60 654.45) scale(0.985 1)" font-size="22.20" text-anchor="start">30°N</text>
<text transform="translate(1193.60 615.50) scale(0.985 1)" font-size="22.20" text-anchor="start">32°N</text>
<text transform="translate(1193.60 576.55) scale(0.985 1)" font-size="22.20" text-anchor="start">34°N</text>
<text transform="translate(1193.60 537.60) scale(0.985 1)" font-size="22.20" text-anchor="start">36°N</text>
<text transform="translate(1193.60 498.65) scale(0.985 1)" font-size="22.20" text-anchor="start">38°N</text>
<text transform="translate(1193.60 459.70) scale(0.985 1)" font-size="22.20" text-anchor="start">40°N</text>
<text transform="translate(686.50 456.00) scale(1.050 1)" font-size="22.00" text-anchor="start">(c)</text>
<text class="s" x="722.1" y="459.9" font-size="14.8" style="fill:#1d5a36">+</text>
<text class="s" x="732.6" y="460.3" font-size="11.5" style="fill:#1d5a36">:</text>
<text class="s" x="747.2" y="459.9" font-size="14.8" style="fill:#1d5a36">48%</text>
<text class="s" x="727.1" y="483.5" font-size="14.8" style="fill:#b152a8">-</text>
<text class="s" x="732.6" y="483.9" font-size="11.5" style="fill:#b152a8">:</text>
<text class="s" x="747.8" y="483.5" font-size="14.8" style="fill:#b152a8">52%</text>
<g shape-rendering="crispEdges">
<rect x="351.4" y="782.1" width="58.9" height="11.6" fill="#b05ba3"/>
<rect x="410.0" y="782.1" width="58.9" height="11.6" fill="#ba6fb0"/>
<rect x="468.6" y="782.1" width="58.9" height="11.6" fill="#cc8fc4"/>
<rect x="527.3" y="782.1" width="58.9" height="11.6" fill="#dcaed5"/>
<rect x="585.9" y="782.1" width="58.9" height="11.6" fill="#eed5ea"/>
<rect x="644.5" y="782.1" width="58.9" height="11.6" fill="#e3f0dd"/>
<rect x="703.1" y="782.1" width="58.9" height="11.6" fill="#b5d9b5"/>
<rect x="761.7" y="782.1" width="58.9" height="11.6" fill="#89b88b"/>
<rect x="820.4" y="782.1" width="58.9" height="11.6" fill="#5b9a62"/>
<rect x="879.0" y="782.1" width="58.9" height="11.6" fill="#2c7038"/>
</g>
<path d="M410.0 793.7v-5M468.6 793.7v-5M527.3 793.7v-5M585.9 793.7v-5M644.5 793.7v-5M703.1 793.7v-5M761.7 793.7v-5M820.4 793.7v-5M879.0 793.7v-5" stroke="#2a2627" stroke-width="1"/>
<rect x="351.4" y="782.1" width="586.2" height="11.6" fill="none" stroke="#3a3536" stroke-width="1"/>
<text transform="translate(404.68 818.80) scale(1.050 1)" font-size="20.40" text-anchor="start">2.0</text><path d="M389.8 812.65h13.6" stroke="#4a4546" stroke-width="1.05"/>
<text transform="translate(463.30 818.80) scale(1.050 1)" font-size="20.40" text-anchor="start">1.5</text><path d="M448.4 812.65h13.6" stroke="#4a4546" stroke-width="1.05"/>
<text transform="translate(521.92 818.80) scale(1.050 1)" font-size="20.40" text-anchor="start">1.0</text><path d="M507.0 812.65h13.6" stroke="#4a4546" stroke-width="1.05"/>
<text transform="translate(580.54 818.80) scale(1.050 1)" font-size="20.40" text-anchor="start">0.5</text><path d="M565.6 812.65h13.6" stroke="#4a4546" stroke-width="1.05"/>
<text transform="translate(639.75 818.80) scale(1.050 1)" font-size="20.40" text-anchor="start">0</text>
<text transform="translate(690.33 818.80) scale(1.050 1)" font-size="20.40" text-anchor="start">0.5</text>
<text transform="translate(748.95 818.80) scale(1.050 1)" font-size="20.40" text-anchor="start">1.0</text>
<text transform="translate(807.57 818.80) scale(1.050 1)" font-size="20.40" text-anchor="start">1.5</text>
<text transform="translate(866.19 818.80) scale(1.050 1)" font-size="20.40" text-anchor="start">2.0</text>
<text transform="translate(941.30 793.00) scale(1.030 1)" font-size="20.60" text-anchor="start">NDVI</text>
<text class="cjk" x="1003.50" y="792.80" font-size="21.4" text-anchor="start">标准化距平</text>
</svg></body></html>
